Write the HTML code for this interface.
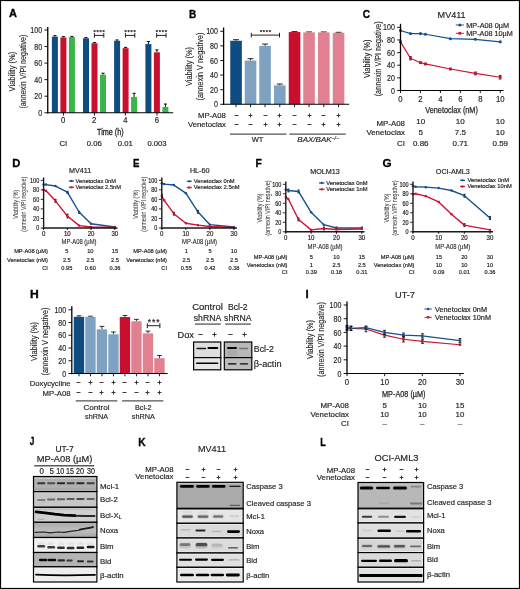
<!DOCTYPE html>
<html lang="en"><head><meta charset="utf-8"><title>Figure</title>
<style>html,body{margin:0;padding:0;background:#fff;}body{width:520px;height:589px;overflow:hidden;font-family:"Liberation Sans",Arial,sans-serif;}svg{display:block;}text{stroke:#231f20;stroke-width:0.18px;}</style>
</head><body>
<svg width="520" height="589" viewBox="0 0 520 589" font-family="'Liberation Sans', Arial, sans-serif" fill="#231f20">
<defs><filter id="b1" x="-20%" y="-100%" width="140%" height="300%"><feGaussianBlur stdDeviation="0.7"/></filter><filter id="b2" x="-20%" y="-100%" width="140%" height="300%"><feGaussianBlur stdDeviation="0.9"/></filter><filter id="b3" x="-20%" y="-100%" width="140%" height="300%"><feGaussianBlur stdDeviation="1.5"/></filter></defs>
<rect x="0.00" y="0.00" width="520.00" height="589.00" fill="#fff"/>
<text x="9.04" y="17.08" font-size="11.0" font-weight="bold" fill="#000" style="stroke:#000;stroke-width:0.3px" textLength="7.95" lengthAdjust="spacingAndGlyphs">A</text>
<line x1="54.90" y1="35.63" x2="54.90" y2="36.62" stroke="#000" stroke-width="0.95"/>
<line x1="53.30" y1="35.63" x2="56.50" y2="35.63" stroke="#000" stroke-width="0.95"/>
<rect x="51.90" y="36.62" width="6.00" height="76.13" fill="#0f4c81"/>
<line x1="63.40" y1="36.62" x2="63.40" y2="37.45" stroke="#000" stroke-width="0.95"/>
<line x1="61.80" y1="36.62" x2="65.00" y2="36.62" stroke="#000" stroke-width="0.95"/>
<rect x="60.40" y="37.45" width="6.00" height="75.30" fill="#c8102e"/>
<line x1="71.90" y1="36.37" x2="71.90" y2="37.03" stroke="#000" stroke-width="0.95"/>
<line x1="70.30" y1="36.37" x2="73.50" y2="36.37" stroke="#000" stroke-width="0.95"/>
<rect x="68.90" y="37.03" width="6.00" height="75.72" fill="#39b54a"/>
<line x1="86.00" y1="37.61" x2="86.00" y2="38.28" stroke="#000" stroke-width="0.95"/>
<line x1="84.40" y1="37.61" x2="87.60" y2="37.61" stroke="#000" stroke-width="0.95"/>
<rect x="83.00" y="38.28" width="6.00" height="74.47" fill="#0f4c81"/>
<line x1="94.50" y1="42.58" x2="94.50" y2="43.24" stroke="#000" stroke-width="0.95"/>
<line x1="92.90" y1="42.58" x2="96.10" y2="42.58" stroke="#000" stroke-width="0.95"/>
<rect x="91.50" y="43.24" width="6.00" height="69.51" fill="#c8102e"/>
<line x1="103.00" y1="73.20" x2="103.00" y2="74.69" stroke="#000" stroke-width="0.95"/>
<line x1="101.40" y1="73.20" x2="104.60" y2="73.20" stroke="#000" stroke-width="0.95"/>
<rect x="100.00" y="74.69" width="6.00" height="38.06" fill="#39b54a"/>
<line x1="117.10" y1="39.93" x2="117.10" y2="40.76" stroke="#000" stroke-width="0.95"/>
<line x1="115.50" y1="39.93" x2="118.70" y2="39.93" stroke="#000" stroke-width="0.95"/>
<rect x="114.10" y="40.76" width="6.00" height="71.99" fill="#0f4c81"/>
<line x1="125.60" y1="47.38" x2="125.60" y2="48.20" stroke="#000" stroke-width="0.95"/>
<line x1="124.00" y1="47.38" x2="127.20" y2="47.38" stroke="#000" stroke-width="0.95"/>
<rect x="122.60" y="48.20" width="6.00" height="64.55" fill="#c8102e"/>
<line x1="134.10" y1="93.30" x2="134.10" y2="97.03" stroke="#000" stroke-width="0.95"/>
<line x1="132.50" y1="93.30" x2="135.70" y2="93.30" stroke="#000" stroke-width="0.95"/>
<rect x="131.10" y="97.03" width="6.00" height="15.72" fill="#39b54a"/>
<line x1="148.40" y1="41.58" x2="148.40" y2="44.07" stroke="#000" stroke-width="0.95"/>
<line x1="146.80" y1="41.58" x2="150.00" y2="41.58" stroke="#000" stroke-width="0.95"/>
<rect x="145.40" y="44.07" width="6.00" height="68.68" fill="#0f4c81"/>
<line x1="156.90" y1="49.86" x2="156.90" y2="52.34" stroke="#000" stroke-width="0.95"/>
<line x1="155.30" y1="49.86" x2="158.50" y2="49.86" stroke="#000" stroke-width="0.95"/>
<rect x="153.90" y="52.34" width="6.00" height="60.41" fill="#c8102e"/>
<line x1="165.40" y1="104.06" x2="165.40" y2="106.96" stroke="#000" stroke-width="0.95"/>
<line x1="163.80" y1="104.06" x2="167.00" y2="104.06" stroke="#000" stroke-width="0.95"/>
<rect x="162.40" y="106.96" width="6.00" height="5.79" fill="#39b54a"/>
<line x1="47.25" y1="112.75" x2="173.20" y2="112.75" stroke="#000" stroke-width="1.1"/>
<line x1="47.75" y1="27.00" x2="47.75" y2="113.40" stroke="#000" stroke-width="1.3"/>
<line x1="44.40" y1="112.75" x2="47.75" y2="112.75" stroke="#000" stroke-width="0.9"/>
<text x="38.18" y="115.90" font-size="8.8" textLength="3.92" lengthAdjust="spacingAndGlyphs">0</text>
<line x1="44.40" y1="96.20" x2="47.75" y2="96.20" stroke="#000" stroke-width="0.9"/>
<text x="34.27" y="99.35" font-size="8.8" textLength="7.83" lengthAdjust="spacingAndGlyphs">20</text>
<line x1="44.40" y1="79.65" x2="47.75" y2="79.65" stroke="#000" stroke-width="0.9"/>
<text x="34.27" y="82.80" font-size="8.8" textLength="7.83" lengthAdjust="spacingAndGlyphs">40</text>
<line x1="44.40" y1="63.10" x2="47.75" y2="63.10" stroke="#000" stroke-width="0.9"/>
<text x="34.27" y="66.25" font-size="8.8" textLength="7.83" lengthAdjust="spacingAndGlyphs">60</text>
<line x1="44.40" y1="46.55" x2="47.75" y2="46.55" stroke="#000" stroke-width="0.9"/>
<text x="34.27" y="49.70" font-size="8.8" textLength="7.83" lengthAdjust="spacingAndGlyphs">80</text>
<line x1="44.40" y1="30.00" x2="47.75" y2="30.00" stroke="#000" stroke-width="0.9"/>
<text x="30.35" y="33.15" font-size="8.8" textLength="11.75" lengthAdjust="spacingAndGlyphs">100</text>
<text transform="translate(12.10 71.60) rotate(-90)" x="-19.80" y="3.11" font-size="8.7" style="stroke:#231f20;stroke-width:0.12px" textLength="39.60" lengthAdjust="spacingAndGlyphs">Viability (%)</text>
<text transform="translate(23.00 71.60) rotate(-90)" x="-37.00" y="3.11" font-size="8.7" style="stroke:#231f20;stroke-width:0.12px" textLength="74.00" lengthAdjust="spacingAndGlyphs">(annexin V/PI negative)</text>
<text x="61.10" y="123.35" font-size="8.8" textLength="4.31" lengthAdjust="spacingAndGlyphs">0</text>
<line x1="63.45" y1="112.75" x2="63.45" y2="115.55" stroke="#000" stroke-width="0.9"/>
<text x="92.10" y="123.35" font-size="8.8" textLength="4.31" lengthAdjust="spacingAndGlyphs">2</text>
<line x1="94.45" y1="112.75" x2="94.45" y2="115.55" stroke="#000" stroke-width="0.9"/>
<text x="123.25" y="123.35" font-size="8.8" textLength="4.31" lengthAdjust="spacingAndGlyphs">4</text>
<line x1="125.40" y1="112.75" x2="125.40" y2="115.55" stroke="#000" stroke-width="0.9"/>
<text x="154.85" y="123.35" font-size="8.8" textLength="4.31" lengthAdjust="spacingAndGlyphs">6</text>
<line x1="157.00" y1="112.75" x2="157.00" y2="115.55" stroke="#000" stroke-width="0.9"/>
<text x="97.05" y="134.72" font-size="9" style="stroke:#231f20;stroke-width:0.3px" textLength="26.50" lengthAdjust="spacingAndGlyphs">Time (h)</text>
<text x="63.25" y="146.26" font-size="7.7" text-anchor="middle">CI</text>
<text x="94.25" y="146.26" font-size="7.7" text-anchor="middle">0.06</text>
<text x="125.25" y="146.26" font-size="7.7" text-anchor="middle">0.01</text>
<text x="157.00" y="146.26" font-size="7.7" text-anchor="middle">0.003</text>
<line x1="94.40" y1="35.40" x2="103.80" y2="35.40" stroke="#231f20" stroke-width="1.0"/>
<line x1="94.40" y1="33.10" x2="94.40" y2="37.70" stroke="#231f20" stroke-width="1.0"/>
<line x1="103.80" y1="33.10" x2="103.80" y2="37.70" stroke="#231f20" stroke-width="1.0"/>
<text x="99.10" y="33.86" font-size="5.6" font-weight="bold" text-anchor="middle" textLength="11.20" lengthAdjust="spacing">****</text>
<line x1="125.40" y1="35.40" x2="134.80" y2="35.40" stroke="#231f20" stroke-width="1.0"/>
<line x1="125.40" y1="33.10" x2="125.40" y2="37.70" stroke="#231f20" stroke-width="1.0"/>
<line x1="134.80" y1="33.10" x2="134.80" y2="37.70" stroke="#231f20" stroke-width="1.0"/>
<text x="130.10" y="33.86" font-size="5.6" font-weight="bold" text-anchor="middle" textLength="11.20" lengthAdjust="spacing">****</text>
<line x1="156.65" y1="35.40" x2="166.05" y2="35.40" stroke="#231f20" stroke-width="1.0"/>
<line x1="156.65" y1="33.10" x2="156.65" y2="37.70" stroke="#231f20" stroke-width="1.0"/>
<line x1="166.05" y1="33.10" x2="166.05" y2="37.70" stroke="#231f20" stroke-width="1.0"/>
<text x="161.35" y="33.86" font-size="5.6" font-weight="bold" text-anchor="middle" textLength="11.20" lengthAdjust="spacing">****</text>
<text x="188.89" y="17.53" font-size="11.0" font-weight="bold" fill="#000" style="stroke:#000;stroke-width:0.3px" textLength="7.27" lengthAdjust="spacingAndGlyphs">B</text>
<line x1="236.05" y1="39.70" x2="236.05" y2="40.79" stroke="#000" stroke-width="0.85"/>
<line x1="233.05" y1="39.70" x2="239.05" y2="39.70" stroke="#000" stroke-width="0.85"/>
<rect x="230.25" y="40.79" width="11.60" height="63.51" fill="#0f4c81"/>
<line x1="236.05" y1="104.30" x2="236.05" y2="107.10" stroke="#000" stroke-width="0.9"/>
<line x1="250.55" y1="58.67" x2="250.55" y2="60.50" stroke="#000" stroke-width="0.85"/>
<line x1="247.55" y1="58.67" x2="253.55" y2="58.67" stroke="#000" stroke-width="0.85"/>
<rect x="244.75" y="60.50" width="11.60" height="43.80" fill="#7fa2c3"/>
<line x1="250.55" y1="104.30" x2="250.55" y2="107.10" stroke="#000" stroke-width="0.9"/>
<line x1="265.05" y1="44.07" x2="265.05" y2="45.90" stroke="#000" stroke-width="0.85"/>
<line x1="262.05" y1="44.07" x2="268.05" y2="44.07" stroke="#000" stroke-width="0.85"/>
<rect x="259.25" y="45.90" width="11.60" height="58.40" fill="#7fa2c3"/>
<line x1="265.05" y1="104.30" x2="265.05" y2="107.10" stroke="#000" stroke-width="0.9"/>
<line x1="279.80" y1="84.01" x2="279.80" y2="85.32" stroke="#000" stroke-width="0.85"/>
<line x1="276.80" y1="84.01" x2="282.80" y2="84.01" stroke="#000" stroke-width="0.85"/>
<rect x="274.00" y="85.32" width="11.60" height="18.98" fill="#7fa2c3"/>
<line x1="279.80" y1="104.30" x2="279.80" y2="107.10" stroke="#000" stroke-width="0.9"/>
<line x1="294.55" y1="31.59" x2="294.55" y2="32.03" stroke="#000" stroke-width="0.85"/>
<line x1="291.55" y1="31.59" x2="297.55" y2="31.59" stroke="#000" stroke-width="0.85"/>
<rect x="288.75" y="32.03" width="11.60" height="72.27" fill="#c8102e"/>
<line x1="294.55" y1="104.30" x2="294.55" y2="107.10" stroke="#000" stroke-width="0.9"/>
<line x1="309.05" y1="31.96" x2="309.05" y2="32.39" stroke="#000" stroke-width="0.85"/>
<line x1="306.05" y1="31.96" x2="312.05" y2="31.96" stroke="#000" stroke-width="0.85"/>
<rect x="303.25" y="32.39" width="11.60" height="71.91" fill="#e08090"/>
<line x1="309.05" y1="104.30" x2="309.05" y2="107.10" stroke="#000" stroke-width="0.9"/>
<line x1="323.80" y1="31.96" x2="323.80" y2="32.39" stroke="#000" stroke-width="0.85"/>
<line x1="320.80" y1="31.96" x2="326.80" y2="31.96" stroke="#000" stroke-width="0.85"/>
<rect x="318.00" y="32.39" width="11.60" height="71.91" fill="#e08090"/>
<line x1="323.80" y1="104.30" x2="323.80" y2="107.10" stroke="#000" stroke-width="0.9"/>
<line x1="338.55" y1="32.32" x2="338.55" y2="32.76" stroke="#000" stroke-width="0.85"/>
<line x1="335.55" y1="32.32" x2="341.55" y2="32.32" stroke="#000" stroke-width="0.85"/>
<rect x="332.75" y="32.76" width="11.60" height="71.54" fill="#e08090"/>
<line x1="338.55" y1="104.30" x2="338.55" y2="107.10" stroke="#000" stroke-width="0.9"/>
<line x1="223.10" y1="104.30" x2="349.20" y2="104.30" stroke="#000" stroke-width="1.1"/>
<line x1="223.60" y1="27.50" x2="223.60" y2="104.95" stroke="#000" stroke-width="1.3"/>
<line x1="220.25" y1="104.30" x2="223.60" y2="104.30" stroke="#000" stroke-width="0.9"/>
<text x="214.03" y="107.45" font-size="8.8" textLength="3.92" lengthAdjust="spacingAndGlyphs">0</text>
<line x1="220.25" y1="89.70" x2="223.60" y2="89.70" stroke="#000" stroke-width="0.9"/>
<text x="210.12" y="92.85" font-size="8.8" textLength="7.83" lengthAdjust="spacingAndGlyphs">20</text>
<line x1="220.25" y1="75.10" x2="223.60" y2="75.10" stroke="#000" stroke-width="0.9"/>
<text x="210.12" y="78.25" font-size="8.8" textLength="7.83" lengthAdjust="spacingAndGlyphs">40</text>
<line x1="220.25" y1="60.50" x2="223.60" y2="60.50" stroke="#000" stroke-width="0.9"/>
<text x="210.12" y="63.65" font-size="8.8" textLength="7.83" lengthAdjust="spacingAndGlyphs">60</text>
<line x1="220.25" y1="45.90" x2="223.60" y2="45.90" stroke="#000" stroke-width="0.9"/>
<text x="210.12" y="49.05" font-size="8.8" textLength="7.83" lengthAdjust="spacingAndGlyphs">80</text>
<line x1="220.25" y1="31.30" x2="223.60" y2="31.30" stroke="#000" stroke-width="0.9"/>
<text x="206.20" y="34.45" font-size="8.8" textLength="11.75" lengthAdjust="spacingAndGlyphs">100</text>
<text transform="translate(188.80 66.50) rotate(-90)" x="-19.60" y="3.11" font-size="8.7" style="stroke:#231f20;stroke-width:0.12px" textLength="39.20" lengthAdjust="spacingAndGlyphs">Viability (%)</text>
<text transform="translate(199.90 66.50) rotate(-90)" x="-34.00" y="3.11" font-size="8.7" style="stroke:#231f20;stroke-width:0.12px" textLength="68.00" lengthAdjust="spacingAndGlyphs">(annexin V negative)</text>
<text x="198.00" y="117.98" font-size="7.5" textLength="27.80" lengthAdjust="spacingAndGlyphs">MP-A08</text>
<text x="188.00" y="127.28" font-size="7.5" textLength="37.80" lengthAdjust="spacingAndGlyphs">Venetoclax</text>
<line x1="234.50" y1="115.50" x2="238.50" y2="115.50" stroke="#2a2627" stroke-width="0.9"/>
<line x1="248.50" y1="115.50" x2="252.50" y2="115.50" stroke="#2a2627" stroke-width="0.9"/>
<line x1="250.50" y1="113.50" x2="250.50" y2="117.50" stroke="#2a2627" stroke-width="0.9"/>
<line x1="263.50" y1="115.50" x2="267.50" y2="115.50" stroke="#2a2627" stroke-width="0.9"/>
<line x1="277.50" y1="115.50" x2="281.50" y2="115.50" stroke="#2a2627" stroke-width="0.9"/>
<line x1="279.50" y1="113.50" x2="279.50" y2="117.50" stroke="#2a2627" stroke-width="0.9"/>
<line x1="292.50" y1="115.50" x2="296.50" y2="115.50" stroke="#2a2627" stroke-width="0.9"/>
<line x1="307.50" y1="115.50" x2="311.50" y2="115.50" stroke="#2a2627" stroke-width="0.9"/>
<line x1="309.50" y1="113.50" x2="309.50" y2="117.50" stroke="#2a2627" stroke-width="0.9"/>
<line x1="321.50" y1="115.50" x2="325.50" y2="115.50" stroke="#2a2627" stroke-width="0.9"/>
<line x1="336.50" y1="115.50" x2="340.50" y2="115.50" stroke="#2a2627" stroke-width="0.9"/>
<line x1="338.50" y1="113.50" x2="338.50" y2="117.50" stroke="#2a2627" stroke-width="0.9"/>
<line x1="234.50" y1="124.50" x2="238.50" y2="124.50" stroke="#2a2627" stroke-width="0.9"/>
<line x1="248.50" y1="124.50" x2="252.50" y2="124.50" stroke="#2a2627" stroke-width="0.9"/>
<line x1="263.50" y1="124.50" x2="267.50" y2="124.50" stroke="#2a2627" stroke-width="0.9"/>
<line x1="265.50" y1="122.50" x2="265.50" y2="126.50" stroke="#2a2627" stroke-width="0.9"/>
<line x1="277.50" y1="124.50" x2="281.50" y2="124.50" stroke="#2a2627" stroke-width="0.9"/>
<line x1="279.50" y1="122.50" x2="279.50" y2="126.50" stroke="#2a2627" stroke-width="0.9"/>
<line x1="292.50" y1="124.50" x2="296.50" y2="124.50" stroke="#2a2627" stroke-width="0.9"/>
<line x1="307.50" y1="124.50" x2="311.50" y2="124.50" stroke="#2a2627" stroke-width="0.9"/>
<line x1="321.50" y1="124.50" x2="325.50" y2="124.50" stroke="#2a2627" stroke-width="0.9"/>
<line x1="323.50" y1="122.50" x2="323.50" y2="126.50" stroke="#2a2627" stroke-width="0.9"/>
<line x1="336.50" y1="124.50" x2="340.50" y2="124.50" stroke="#2a2627" stroke-width="0.9"/>
<line x1="338.50" y1="122.50" x2="338.50" y2="126.50" stroke="#2a2627" stroke-width="0.9"/>
<line x1="230.00" y1="134.10" x2="286.50" y2="134.10" stroke="#555" stroke-width="1.3"/>
<line x1="289.25" y1="134.10" x2="345.75" y2="134.10" stroke="#555" stroke-width="1.3"/>
<text x="257.50" y="142.38" font-size="7.5" text-anchor="middle">WT</text>
<text x="318.1" y="142.3" font-size="8" text-anchor="middle" font-style="italic">BAX/BAK<tspan font-size="5" dy="-2.8">−/−</tspan></text>
<line x1="251.30" y1="35.10" x2="279.50" y2="35.10" stroke="#231f20" stroke-width="1.0"/>
<line x1="251.30" y1="32.80" x2="251.30" y2="37.40" stroke="#231f20" stroke-width="1.0"/>
<line x1="279.50" y1="32.80" x2="279.50" y2="37.40" stroke="#231f20" stroke-width="1.0"/>
<text x="265.40" y="33.86" font-size="5.6" font-weight="bold" text-anchor="middle" textLength="11.00" lengthAdjust="spacing">****</text>
<text x="362.63" y="17.53" font-size="11.0" font-weight="bold" fill="#000" style="stroke:#000;stroke-width:0.3px" textLength="7.34" lengthAdjust="spacingAndGlyphs">C</text>
<text x="437.60" y="18.22" font-size="9" textLength="28.00" lengthAdjust="spacingAndGlyphs">MV411</text>
<path d="M400.50 30.46 L410.48 33.62 L420.45 33.62 L425.44 34.25 L450.38 38.68 L475.31 39.31 L500.25 41.84" fill="none" stroke="#15518f" stroke-width="1.2" stroke-linejoin="round"/>
<circle cx="400.50" cy="30.46" r="1.55" fill="#15518f"/>
<circle cx="410.48" cy="33.62" r="1.55" fill="#15518f"/>
<circle cx="420.45" cy="33.62" r="1.55" fill="#15518f"/>
<circle cx="425.44" cy="34.25" r="1.55" fill="#15518f"/>
<circle cx="450.38" cy="38.68" r="1.55" fill="#15518f"/>
<circle cx="475.31" cy="39.31" r="1.55" fill="#15518f"/>
<circle cx="500.25" cy="41.84" r="1.55" fill="#15518f"/>
<path d="M400.50 41.84 L410.48 58.27 L420.45 62.69 L425.44 63.96 L450.38 69.01 L475.31 73.44 L500.25 77.23" fill="none" stroke="#cc1433" stroke-width="1.2" stroke-linejoin="round"/>
<line x1="410.50" y1="56.69" x2="410.50" y2="59.85" stroke="#000" stroke-width="0.7"/>
<line x1="409.20" y1="56.69" x2="411.80" y2="56.69" stroke="#000" stroke-width="0.85"/>
<line x1="409.20" y1="59.85" x2="411.80" y2="59.85" stroke="#000" stroke-width="0.85"/>
<line x1="420.50" y1="62.06" x2="420.50" y2="63.32" stroke="#000" stroke-width="0.7"/>
<line x1="419.20" y1="62.06" x2="421.80" y2="62.06" stroke="#000" stroke-width="0.85"/>
<line x1="419.20" y1="63.32" x2="421.80" y2="63.32" stroke="#000" stroke-width="0.85"/>
<line x1="425.50" y1="63.32" x2="425.50" y2="64.59" stroke="#000" stroke-width="0.7"/>
<line x1="424.20" y1="63.32" x2="426.80" y2="63.32" stroke="#000" stroke-width="0.85"/>
<line x1="424.20" y1="64.59" x2="426.80" y2="64.59" stroke="#000" stroke-width="0.85"/>
<line x1="450.50" y1="68.38" x2="450.50" y2="69.64" stroke="#000" stroke-width="0.7"/>
<line x1="449.20" y1="68.38" x2="451.80" y2="68.38" stroke="#000" stroke-width="0.85"/>
<line x1="449.20" y1="69.64" x2="451.80" y2="69.64" stroke="#000" stroke-width="0.85"/>
<line x1="475.50" y1="72.05" x2="475.50" y2="74.83" stroke="#000" stroke-width="0.7"/>
<line x1="474.20" y1="72.05" x2="476.80" y2="72.05" stroke="#000" stroke-width="0.85"/>
<line x1="474.20" y1="74.83" x2="476.80" y2="74.83" stroke="#000" stroke-width="0.85"/>
<line x1="500.00" y1="75.46" x2="500.00" y2="79.00" stroke="#000" stroke-width="0.7"/>
<line x1="498.70" y1="75.46" x2="501.30" y2="75.46" stroke="#000" stroke-width="0.85"/>
<line x1="498.70" y1="79.00" x2="501.30" y2="79.00" stroke="#000" stroke-width="0.85"/>
<rect x="399.10" y="40.44" width="2.80" height="2.80" fill="#cc1433"/>
<rect x="409.08" y="56.87" width="2.80" height="2.80" fill="#cc1433"/>
<rect x="419.05" y="61.29" width="2.80" height="2.80" fill="#cc1433"/>
<rect x="424.04" y="62.56" width="2.80" height="2.80" fill="#cc1433"/>
<rect x="448.98" y="67.61" width="2.80" height="2.80" fill="#cc1433"/>
<rect x="473.91" y="72.04" width="2.80" height="2.80" fill="#cc1433"/>
<rect x="498.85" y="75.83" width="2.80" height="2.80" fill="#cc1433"/>
<line x1="400.00" y1="90.50" x2="503.50" y2="90.50" stroke="#000" stroke-width="1.1"/>
<line x1="400.50" y1="23.80" x2="400.50" y2="91.15" stroke="#000" stroke-width="1.3"/>
<line x1="397.15" y1="90.50" x2="400.50" y2="90.50" stroke="#000" stroke-width="0.9"/>
<text x="390.93" y="93.65" font-size="8.8" textLength="3.92" lengthAdjust="spacingAndGlyphs">0</text>
<line x1="397.15" y1="77.86" x2="400.50" y2="77.86" stroke="#000" stroke-width="0.9"/>
<text x="387.02" y="81.01" font-size="8.8" textLength="7.83" lengthAdjust="spacingAndGlyphs">20</text>
<line x1="397.15" y1="65.22" x2="400.50" y2="65.22" stroke="#000" stroke-width="0.9"/>
<text x="387.02" y="68.37" font-size="8.8" textLength="7.83" lengthAdjust="spacingAndGlyphs">40</text>
<line x1="397.15" y1="52.58" x2="400.50" y2="52.58" stroke="#000" stroke-width="0.9"/>
<text x="387.02" y="55.73" font-size="8.8" textLength="7.83" lengthAdjust="spacingAndGlyphs">60</text>
<line x1="397.15" y1="39.94" x2="400.50" y2="39.94" stroke="#000" stroke-width="0.9"/>
<text x="387.02" y="43.09" font-size="8.8" textLength="7.83" lengthAdjust="spacingAndGlyphs">80</text>
<line x1="397.15" y1="27.30" x2="400.50" y2="27.30" stroke="#000" stroke-width="0.9"/>
<text x="383.10" y="30.45" font-size="8.8" textLength="11.75" lengthAdjust="spacingAndGlyphs">100</text>
<line x1="400.50" y1="90.50" x2="400.50" y2="93.10" stroke="#000" stroke-width="0.9"/>
<text x="398.35" y="101.85" font-size="8.8" textLength="4.31" lengthAdjust="spacingAndGlyphs">0</text>
<line x1="420.45" y1="90.50" x2="420.45" y2="93.10" stroke="#000" stroke-width="0.9"/>
<text x="418.30" y="101.85" font-size="8.8" textLength="4.31" lengthAdjust="spacingAndGlyphs">2</text>
<line x1="440.40" y1="90.50" x2="440.40" y2="93.10" stroke="#000" stroke-width="0.9"/>
<text x="438.25" y="101.85" font-size="8.8" textLength="4.31" lengthAdjust="spacingAndGlyphs">4</text>
<line x1="460.35" y1="90.50" x2="460.35" y2="93.10" stroke="#000" stroke-width="0.9"/>
<text x="458.20" y="101.85" font-size="8.8" textLength="4.31" lengthAdjust="spacingAndGlyphs">6</text>
<line x1="480.30" y1="90.50" x2="480.30" y2="93.10" stroke="#000" stroke-width="0.9"/>
<text x="478.15" y="101.85" font-size="8.8" textLength="4.31" lengthAdjust="spacingAndGlyphs">8</text>
<line x1="500.25" y1="90.50" x2="500.25" y2="93.10" stroke="#000" stroke-width="0.9"/>
<text x="495.94" y="101.85" font-size="8.8" textLength="8.61" lengthAdjust="spacingAndGlyphs">10</text>
<text transform="translate(366.80 58.80) rotate(-90)" x="-19.25" y="3.11" font-size="8.7" style="stroke:#231f20;stroke-width:0.12px" textLength="38.50" lengthAdjust="spacingAndGlyphs">Viability (%)</text>
<text transform="translate(377.50 58.80) rotate(-90)" x="-37.50" y="3.11" font-size="8.7" style="stroke:#231f20;stroke-width:0.12px" textLength="75.00" lengthAdjust="spacingAndGlyphs">(annexin V/PI negative)</text>
<text x="425.35" y="112.59" font-size="9.2" style="stroke:#231f20;stroke-width:0.25px" textLength="52.50" lengthAdjust="spacingAndGlyphs">Venetoclax (nM)</text>
<line x1="455.80" y1="25.00" x2="463.80" y2="25.00" stroke="#15518f" stroke-width="1.0"/>
<circle cx="459.80" cy="25.00" r="1.5" fill="#15518f"/>
<text x="466.30" y="27.61" font-size="7.3" textLength="42.70" lengthAdjust="spacingAndGlyphs">MP-A08 0µM</text>
<line x1="455.80" y1="33.30" x2="463.80" y2="33.30" stroke="#cc1433" stroke-width="1.0"/>
<rect x="458.45" y="31.95" width="2.70" height="2.70" fill="#cc1433"/>
<text x="466.30" y="35.91" font-size="7.3" textLength="46.50" lengthAdjust="spacingAndGlyphs">MP-A08 10µM</text>
<text x="405.00" y="125.63" font-size="7.9" text-anchor="end">MP-A08</text>
<text x="420.80" y="124.36" font-size="8.0" text-anchor="middle">10</text>
<text x="460.30" y="124.36" font-size="8.0" text-anchor="middle">10</text>
<text x="500.30" y="124.36" font-size="8.0" text-anchor="middle">10</text>
<text x="405.00" y="135.43" font-size="7.9" text-anchor="end">Venetoclax</text>
<text x="420.80" y="135.46" font-size="8.0" text-anchor="middle">5</text>
<text x="460.30" y="135.46" font-size="8.0" text-anchor="middle">7.5</text>
<text x="500.30" y="135.46" font-size="8.0" text-anchor="middle">10</text>
<text x="405.00" y="145.63" font-size="7.9" text-anchor="end">CI</text>
<text x="420.80" y="145.66" font-size="8.0" text-anchor="middle">0.86</text>
<text x="460.30" y="145.66" font-size="8.0" text-anchor="middle">0.71</text>
<text x="500.30" y="145.66" font-size="8.0" text-anchor="middle">0.59</text>
<text x="12.31" y="167.28" font-size="11.0" font-weight="bold" fill="#000" style="stroke:#000;stroke-width:0.3px" textLength="8.10" lengthAdjust="spacingAndGlyphs">D</text>
<text x="80.20" y="173.18" font-size="7.2" text-anchor="middle">MV411</text>
<path d="M43.60 184.59 L45.97 184.59 L55.47 186.02 L67.33 192.23 L79.20 212.26 L91.07 223.71 L114.80 227.05" fill="none" stroke="#15518f" stroke-width="1.4" stroke-linejoin="round"/>
<line x1="67.50" y1="191.27" x2="67.50" y2="193.18" stroke="#000" stroke-width="0.7"/>
<line x1="66.50" y1="191.27" x2="68.50" y2="191.27" stroke="#000" stroke-width="0.85"/>
<line x1="66.50" y1="193.18" x2="68.50" y2="193.18" stroke="#000" stroke-width="0.85"/>
<line x1="79.00" y1="211.31" x2="79.00" y2="213.21" stroke="#000" stroke-width="0.7"/>
<line x1="78.00" y1="211.31" x2="80.00" y2="211.31" stroke="#000" stroke-width="0.85"/>
<line x1="78.00" y1="213.21" x2="80.00" y2="213.21" stroke="#000" stroke-width="0.85"/>
<circle cx="43.60" cy="184.59" r="1.25" fill="#15518f"/>
<circle cx="45.97" cy="184.59" r="1.25" fill="#15518f"/>
<circle cx="55.47" cy="186.02" r="1.25" fill="#15518f"/>
<circle cx="67.33" cy="192.23" r="1.25" fill="#15518f"/>
<circle cx="79.20" cy="212.26" r="1.25" fill="#15518f"/>
<circle cx="91.07" cy="223.71" r="1.25" fill="#15518f"/>
<circle cx="114.80" cy="227.05" r="1.25" fill="#15518f"/>
<path d="M43.60 189.84 L45.97 190.79 L55.47 200.81 L67.33 216.07 L79.20 225.62 L91.07 227.05 L114.80 227.52" fill="none" stroke="#cc1433" stroke-width="1.4" stroke-linejoin="round"/>
<line x1="55.50" y1="199.38" x2="55.50" y2="202.24" stroke="#000" stroke-width="0.7"/>
<line x1="54.50" y1="199.38" x2="56.50" y2="199.38" stroke="#000" stroke-width="0.85"/>
<line x1="54.50" y1="202.24" x2="56.50" y2="202.24" stroke="#000" stroke-width="0.85"/>
<line x1="67.50" y1="214.17" x2="67.50" y2="217.98" stroke="#000" stroke-width="0.7"/>
<line x1="66.50" y1="214.17" x2="68.50" y2="214.17" stroke="#000" stroke-width="0.85"/>
<line x1="66.50" y1="217.98" x2="68.50" y2="217.98" stroke="#000" stroke-width="0.85"/>
<rect x="42.50" y="188.74" width="2.20" height="2.20" fill="#cc1433"/>
<rect x="44.87" y="189.69" width="2.20" height="2.20" fill="#cc1433"/>
<rect x="54.37" y="199.71" width="2.20" height="2.20" fill="#cc1433"/>
<rect x="66.23" y="214.97" width="2.20" height="2.20" fill="#cc1433"/>
<rect x="78.10" y="224.52" width="2.20" height="2.20" fill="#cc1433"/>
<rect x="89.97" y="225.95" width="2.20" height="2.20" fill="#cc1433"/>
<rect x="113.70" y="226.42" width="2.20" height="2.20" fill="#cc1433"/>
<line x1="42.90" y1="228.00" x2="117.50" y2="228.00" stroke="#1a1a1a" stroke-width="1.5"/>
<line x1="43.60" y1="177.50" x2="43.60" y2="228.70" stroke="#1a1a1a" stroke-width="1.4"/>
<line x1="40.70" y1="228.00" x2="43.60" y2="228.00" stroke="#1a1a1a" stroke-width="0.9"/>
<text x="36.15" y="230.26" font-size="6.3" textLength="3.05" lengthAdjust="spacingAndGlyphs">0</text>
<line x1="40.70" y1="218.46" x2="43.60" y2="218.46" stroke="#1a1a1a" stroke-width="0.9"/>
<text x="33.10" y="220.72" font-size="6.3" textLength="6.10" lengthAdjust="spacingAndGlyphs">20</text>
<line x1="40.70" y1="208.92" x2="43.60" y2="208.92" stroke="#1a1a1a" stroke-width="0.9"/>
<text x="33.10" y="211.18" font-size="6.3" textLength="6.10" lengthAdjust="spacingAndGlyphs">40</text>
<line x1="40.70" y1="199.38" x2="43.60" y2="199.38" stroke="#1a1a1a" stroke-width="0.9"/>
<text x="33.10" y="201.64" font-size="6.3" textLength="6.10" lengthAdjust="spacingAndGlyphs">60</text>
<line x1="40.70" y1="189.84" x2="43.60" y2="189.84" stroke="#1a1a1a" stroke-width="0.9"/>
<text x="33.10" y="192.10" font-size="6.3" textLength="6.10" lengthAdjust="spacingAndGlyphs">80</text>
<line x1="40.70" y1="180.30" x2="43.60" y2="180.30" stroke="#1a1a1a" stroke-width="0.9"/>
<text x="30.05" y="182.56" font-size="6.3" textLength="9.15" lengthAdjust="spacingAndGlyphs">100</text>
<line x1="43.60" y1="228.00" x2="43.60" y2="230.00" stroke="#000" stroke-width="0.9"/>
<text x="41.90" y="236.46" font-size="6.3" textLength="3.40" lengthAdjust="spacingAndGlyphs">0</text>
<line x1="67.33" y1="228.00" x2="67.33" y2="230.00" stroke="#000" stroke-width="0.9"/>
<text x="63.93" y="236.46" font-size="6.3" textLength="6.80" lengthAdjust="spacingAndGlyphs">10</text>
<line x1="91.07" y1="228.00" x2="91.07" y2="230.00" stroke="#000" stroke-width="0.9"/>
<text x="87.67" y="236.46" font-size="6.3" textLength="6.80" lengthAdjust="spacingAndGlyphs">20</text>
<line x1="114.80" y1="228.00" x2="114.80" y2="230.00" stroke="#000" stroke-width="0.9"/>
<text x="111.40" y="236.46" font-size="6.3" textLength="6.80" lengthAdjust="spacingAndGlyphs">30</text>
<text transform="translate(15.80 204.30) rotate(-90)" x="-14.40" y="2.26" font-size="6.3" style="stroke:none" textLength="28.80" lengthAdjust="spacingAndGlyphs">Viability (%)</text>
<text transform="translate(23.80 204.30) rotate(-90)" x="-27.50" y="2.26" font-size="6.3" style="stroke:none" textLength="55.00" lengthAdjust="spacingAndGlyphs">(annexin V/PI negative)</text>
<text x="61.50" y="244.43" font-size="6.8" style="stroke:#231f20;stroke-width:0.1px" textLength="35.00" lengthAdjust="spacingAndGlyphs">MP-A08 (µM)</text>
<line x1="68.80" y1="181.00" x2="74.00" y2="181.00" stroke="#15518f" stroke-width="1.2"/>
<circle cx="71.40" cy="181.00" r="1.15" fill="#15518f"/>
<text x="75.60" y="182.97" font-size="5.5" textLength="40.40" lengthAdjust="spacingAndGlyphs">Venetoclax 0nM</text>
<line x1="68.80" y1="187.30" x2="74.00" y2="187.30" stroke="#cc1433" stroke-width="1.2"/>
<rect x="70.35" y="186.25" width="2.10" height="2.10" fill="#cc1433"/>
<text x="75.60" y="189.27" font-size="5.5" textLength="45.40" lengthAdjust="spacingAndGlyphs">Venetoclax 2.5nM</text>
<text x="47.80" y="253.32" font-size="5.65" text-anchor="end">MP-A08 (µM)</text>
<text x="66.80" y="253.32" font-size="5.65" text-anchor="middle">5</text>
<text x="90.30" y="253.32" font-size="5.65" text-anchor="middle">10</text>
<text x="115.00" y="253.32" font-size="5.65" text-anchor="middle">15</text>
<text x="47.80" y="262.32" font-size="5.65" text-anchor="end">Venetoclax (nM)</text>
<text x="66.80" y="262.32" font-size="5.65" text-anchor="middle">2.5</text>
<text x="90.30" y="262.32" font-size="5.65" text-anchor="middle">2.5</text>
<text x="115.00" y="262.32" font-size="5.65" text-anchor="middle">2.5</text>
<text x="47.80" y="269.82" font-size="5.65" text-anchor="end">CI</text>
<text x="66.80" y="269.82" font-size="5.65" text-anchor="middle">0.95</text>
<text x="90.30" y="269.82" font-size="5.65" text-anchor="middle">0.60</text>
<text x="115.00" y="269.82" font-size="5.65" text-anchor="middle">0.36</text>
<text x="132.92" y="167.28" font-size="11.0" font-weight="bold" fill="#000" style="stroke:#000;stroke-width:0.3px" textLength="6.41" lengthAdjust="spacingAndGlyphs">E</text>
<text x="199.70" y="173.18" font-size="7.2" text-anchor="middle">HL-60</text>
<path d="M161.80 183.16 L164.21 184.12 L173.83 185.07 L185.87 193.18 L197.90 211.78 L209.93 224.66 L234.00 227.05" fill="none" stroke="#15518f" stroke-width="1.4" stroke-linejoin="round"/>
<line x1="198.00" y1="210.35" x2="198.00" y2="213.21" stroke="#000" stroke-width="0.7"/>
<line x1="197.00" y1="210.35" x2="199.00" y2="210.35" stroke="#000" stroke-width="0.85"/>
<line x1="197.00" y1="213.21" x2="199.00" y2="213.21" stroke="#000" stroke-width="0.85"/>
<circle cx="161.80" cy="183.16" r="1.25" fill="#15518f"/>
<circle cx="164.21" cy="184.12" r="1.25" fill="#15518f"/>
<circle cx="173.83" cy="185.07" r="1.25" fill="#15518f"/>
<circle cx="185.87" cy="193.18" r="1.25" fill="#15518f"/>
<circle cx="197.90" cy="211.78" r="1.25" fill="#15518f"/>
<circle cx="209.93" cy="224.66" r="1.25" fill="#15518f"/>
<circle cx="234.00" cy="227.05" r="1.25" fill="#15518f"/>
<path d="M161.80 196.04 L164.21 200.33 L173.83 213.69 L185.87 223.23 L197.90 225.14 L209.93 226.57 L234.00 227.52" fill="none" stroke="#cc1433" stroke-width="1.4" stroke-linejoin="round"/>
<line x1="162.00" y1="194.61" x2="162.00" y2="197.47" stroke="#000" stroke-width="0.7"/>
<line x1="161.00" y1="194.61" x2="163.00" y2="194.61" stroke="#000" stroke-width="0.85"/>
<line x1="161.00" y1="197.47" x2="163.00" y2="197.47" stroke="#000" stroke-width="0.85"/>
<line x1="174.00" y1="212.26" x2="174.00" y2="215.12" stroke="#000" stroke-width="0.7"/>
<line x1="173.00" y1="212.26" x2="175.00" y2="212.26" stroke="#000" stroke-width="0.85"/>
<line x1="173.00" y1="215.12" x2="175.00" y2="215.12" stroke="#000" stroke-width="0.85"/>
<rect x="160.70" y="194.94" width="2.20" height="2.20" fill="#cc1433"/>
<rect x="163.11" y="199.23" width="2.20" height="2.20" fill="#cc1433"/>
<rect x="172.73" y="212.59" width="2.20" height="2.20" fill="#cc1433"/>
<rect x="184.77" y="222.13" width="2.20" height="2.20" fill="#cc1433"/>
<rect x="196.80" y="224.04" width="2.20" height="2.20" fill="#cc1433"/>
<rect x="208.83" y="225.47" width="2.20" height="2.20" fill="#cc1433"/>
<rect x="232.90" y="226.42" width="2.20" height="2.20" fill="#cc1433"/>
<line x1="161.10" y1="228.00" x2="237.00" y2="228.00" stroke="#1a1a1a" stroke-width="1.5"/>
<line x1="161.80" y1="177.50" x2="161.80" y2="228.70" stroke="#1a1a1a" stroke-width="1.4"/>
<line x1="158.90" y1="228.00" x2="161.80" y2="228.00" stroke="#1a1a1a" stroke-width="0.9"/>
<text x="154.35" y="230.26" font-size="6.3" textLength="3.05" lengthAdjust="spacingAndGlyphs">0</text>
<line x1="158.90" y1="218.46" x2="161.80" y2="218.46" stroke="#1a1a1a" stroke-width="0.9"/>
<text x="151.30" y="220.72" font-size="6.3" textLength="6.10" lengthAdjust="spacingAndGlyphs">20</text>
<line x1="158.90" y1="208.92" x2="161.80" y2="208.92" stroke="#1a1a1a" stroke-width="0.9"/>
<text x="151.30" y="211.18" font-size="6.3" textLength="6.10" lengthAdjust="spacingAndGlyphs">40</text>
<line x1="158.90" y1="199.38" x2="161.80" y2="199.38" stroke="#1a1a1a" stroke-width="0.9"/>
<text x="151.30" y="201.64" font-size="6.3" textLength="6.10" lengthAdjust="spacingAndGlyphs">60</text>
<line x1="158.90" y1="189.84" x2="161.80" y2="189.84" stroke="#1a1a1a" stroke-width="0.9"/>
<text x="151.30" y="192.10" font-size="6.3" textLength="6.10" lengthAdjust="spacingAndGlyphs">80</text>
<line x1="158.90" y1="180.30" x2="161.80" y2="180.30" stroke="#1a1a1a" stroke-width="0.9"/>
<text x="148.25" y="182.56" font-size="6.3" textLength="9.15" lengthAdjust="spacingAndGlyphs">100</text>
<line x1="161.80" y1="228.00" x2="161.80" y2="230.00" stroke="#000" stroke-width="0.9"/>
<text x="160.10" y="236.46" font-size="6.3" textLength="3.40" lengthAdjust="spacingAndGlyphs">0</text>
<line x1="185.87" y1="228.00" x2="185.87" y2="230.00" stroke="#000" stroke-width="0.9"/>
<text x="182.47" y="236.46" font-size="6.3" textLength="6.80" lengthAdjust="spacingAndGlyphs">10</text>
<line x1="209.93" y1="228.00" x2="209.93" y2="230.00" stroke="#000" stroke-width="0.9"/>
<text x="206.53" y="236.46" font-size="6.3" textLength="6.80" lengthAdjust="spacingAndGlyphs">20</text>
<line x1="234.00" y1="228.00" x2="234.00" y2="230.00" stroke="#000" stroke-width="0.9"/>
<text x="230.60" y="236.46" font-size="6.3" textLength="6.80" lengthAdjust="spacingAndGlyphs">30</text>
<text transform="translate(135.80 204.30) rotate(-90)" x="-14.40" y="2.26" font-size="6.3" style="stroke:none" textLength="28.80" lengthAdjust="spacingAndGlyphs">Viability (%)</text>
<text transform="translate(143.80 204.30) rotate(-90)" x="-27.50" y="2.26" font-size="6.3" style="stroke:none" textLength="55.00" lengthAdjust="spacingAndGlyphs">(annexin V/PI negative)</text>
<text x="182.00" y="244.43" font-size="6.8" style="stroke:#231f20;stroke-width:0.1px" textLength="35.00" lengthAdjust="spacingAndGlyphs">MP-A08 (µM)</text>
<line x1="186.80" y1="181.30" x2="191.80" y2="181.30" stroke="#15518f" stroke-width="1.2"/>
<circle cx="189.30" cy="181.30" r="1.15" fill="#15518f"/>
<text x="193.80" y="183.27" font-size="5.5" textLength="40.80" lengthAdjust="spacingAndGlyphs">Venetoclax 0nM</text>
<line x1="186.80" y1="187.50" x2="191.80" y2="187.50" stroke="#cc1433" stroke-width="1.2"/>
<rect x="188.25" y="186.45" width="2.10" height="2.10" fill="#cc1433"/>
<text x="193.80" y="189.47" font-size="5.5" textLength="45.80" lengthAdjust="spacingAndGlyphs">Venetoclax 2.5nM</text>
<text x="167.00" y="253.32" font-size="5.65" text-anchor="end">MP-A08 (µM)</text>
<text x="186.30" y="253.32" font-size="5.65" text-anchor="middle">1</text>
<text x="210.00" y="253.32" font-size="5.65" text-anchor="middle">5</text>
<text x="234.00" y="253.32" font-size="5.65" text-anchor="middle">10</text>
<text x="167.00" y="262.32" font-size="5.65" text-anchor="end">Venetoclax (nM)</text>
<text x="186.30" y="262.32" font-size="5.65" text-anchor="middle">2.5</text>
<text x="210.00" y="262.32" font-size="5.65" text-anchor="middle">2.5</text>
<text x="234.00" y="262.32" font-size="5.65" text-anchor="middle">2.5</text>
<text x="167.00" y="269.82" font-size="5.65" text-anchor="end">CI</text>
<text x="186.30" y="269.82" font-size="5.65" text-anchor="middle">0.55</text>
<text x="210.00" y="269.82" font-size="5.65" text-anchor="middle">0.42</text>
<text x="234.00" y="269.82" font-size="5.65" text-anchor="middle">0.38</text>
<text x="255.61" y="167.08" font-size="11.0" font-weight="bold" fill="#000" style="stroke:#000;stroke-width:0.3px" textLength="6.36" lengthAdjust="spacingAndGlyphs">F</text>
<text x="325.00" y="173.88" font-size="7.2" text-anchor="middle">MOLM13</text>
<path d="M285.80 189.53 L288.33 190.48 L298.47 191.43 L311.13 212.33 L323.80 224.68 L336.47 228.00 L361.80 228.00" fill="none" stroke="#15518f" stroke-width="1.4" stroke-linejoin="round"/>
<line x1="288.50" y1="189.05" x2="288.50" y2="191.90" stroke="#000" stroke-width="0.7"/>
<line x1="287.50" y1="189.05" x2="289.50" y2="189.05" stroke="#000" stroke-width="0.85"/>
<line x1="287.50" y1="191.90" x2="289.50" y2="191.90" stroke="#000" stroke-width="0.85"/>
<line x1="298.50" y1="190.00" x2="298.50" y2="192.85" stroke="#000" stroke-width="0.7"/>
<line x1="297.50" y1="190.00" x2="299.50" y2="190.00" stroke="#000" stroke-width="0.85"/>
<line x1="297.50" y1="192.85" x2="299.50" y2="192.85" stroke="#000" stroke-width="0.85"/>
<line x1="336.50" y1="227.05" x2="336.50" y2="228.95" stroke="#000" stroke-width="0.7"/>
<line x1="335.50" y1="227.05" x2="337.50" y2="227.05" stroke="#000" stroke-width="0.85"/>
<line x1="335.50" y1="228.95" x2="337.50" y2="228.95" stroke="#000" stroke-width="0.85"/>
<line x1="362.00" y1="227.05" x2="362.00" y2="228.95" stroke="#000" stroke-width="0.7"/>
<line x1="361.00" y1="227.05" x2="363.00" y2="227.05" stroke="#000" stroke-width="0.85"/>
<line x1="361.00" y1="228.95" x2="363.00" y2="228.95" stroke="#000" stroke-width="0.85"/>
<circle cx="285.80" cy="189.53" r="1.25" fill="#15518f"/>
<circle cx="288.33" cy="190.48" r="1.25" fill="#15518f"/>
<circle cx="298.47" cy="191.43" r="1.25" fill="#15518f"/>
<circle cx="311.13" cy="212.33" r="1.25" fill="#15518f"/>
<circle cx="323.80" cy="224.68" r="1.25" fill="#15518f"/>
<circle cx="336.47" cy="228.00" r="1.25" fill="#15518f"/>
<circle cx="361.80" cy="228.00" r="1.25" fill="#15518f"/>
<path d="M285.80 197.12 L288.33 199.03 L298.47 219.45 L311.13 229.90 L323.80 228.48 L336.47 229.43 L361.80 228.95" fill="none" stroke="#cc1433" stroke-width="1.4" stroke-linejoin="round"/>
<line x1="298.50" y1="218.03" x2="298.50" y2="220.88" stroke="#000" stroke-width="0.7"/>
<line x1="297.50" y1="218.03" x2="299.50" y2="218.03" stroke="#000" stroke-width="0.85"/>
<line x1="297.50" y1="220.88" x2="299.50" y2="220.88" stroke="#000" stroke-width="0.85"/>
<line x1="324.00" y1="227.05" x2="324.00" y2="229.90" stroke="#000" stroke-width="0.7"/>
<line x1="323.00" y1="227.05" x2="325.00" y2="227.05" stroke="#000" stroke-width="0.85"/>
<line x1="323.00" y1="229.90" x2="325.00" y2="229.90" stroke="#000" stroke-width="0.85"/>
<rect x="284.70" y="196.03" width="2.20" height="2.20" fill="#cc1433"/>
<rect x="287.23" y="197.93" width="2.20" height="2.20" fill="#cc1433"/>
<rect x="297.37" y="218.35" width="2.20" height="2.20" fill="#cc1433"/>
<rect x="310.03" y="228.80" width="2.20" height="2.20" fill="#cc1433"/>
<rect x="322.70" y="227.38" width="2.20" height="2.20" fill="#cc1433"/>
<rect x="335.37" y="228.33" width="2.20" height="2.20" fill="#cc1433"/>
<rect x="360.70" y="227.85" width="2.20" height="2.20" fill="#cc1433"/>
<line x1="285.10" y1="231.80" x2="364.50" y2="231.80" stroke="#1a1a1a" stroke-width="1.5"/>
<line x1="285.80" y1="181.50" x2="285.80" y2="232.50" stroke="#1a1a1a" stroke-width="1.4"/>
<line x1="282.90" y1="231.80" x2="285.80" y2="231.80" stroke="#1a1a1a" stroke-width="0.9"/>
<text x="278.35" y="234.06" font-size="6.3" textLength="3.05" lengthAdjust="spacingAndGlyphs">0</text>
<line x1="282.90" y1="222.30" x2="285.80" y2="222.30" stroke="#1a1a1a" stroke-width="0.9"/>
<text x="275.30" y="224.56" font-size="6.3" textLength="6.10" lengthAdjust="spacingAndGlyphs">20</text>
<line x1="282.90" y1="212.80" x2="285.80" y2="212.80" stroke="#1a1a1a" stroke-width="0.9"/>
<text x="275.30" y="215.06" font-size="6.3" textLength="6.10" lengthAdjust="spacingAndGlyphs">40</text>
<line x1="282.90" y1="203.30" x2="285.80" y2="203.30" stroke="#1a1a1a" stroke-width="0.9"/>
<text x="275.30" y="205.56" font-size="6.3" textLength="6.10" lengthAdjust="spacingAndGlyphs">60</text>
<line x1="282.90" y1="193.80" x2="285.80" y2="193.80" stroke="#1a1a1a" stroke-width="0.9"/>
<text x="275.30" y="196.06" font-size="6.3" textLength="6.10" lengthAdjust="spacingAndGlyphs">80</text>
<line x1="282.90" y1="184.30" x2="285.80" y2="184.30" stroke="#1a1a1a" stroke-width="0.9"/>
<text x="272.25" y="186.56" font-size="6.3" textLength="9.15" lengthAdjust="spacingAndGlyphs">100</text>
<line x1="285.80" y1="231.80" x2="285.80" y2="233.80" stroke="#000" stroke-width="0.9"/>
<text x="284.10" y="240.26" font-size="6.3" textLength="3.40" lengthAdjust="spacingAndGlyphs">0</text>
<line x1="311.13" y1="231.80" x2="311.13" y2="233.80" stroke="#000" stroke-width="0.9"/>
<text x="307.73" y="240.26" font-size="6.3" textLength="6.80" lengthAdjust="spacingAndGlyphs">10</text>
<line x1="336.47" y1="231.80" x2="336.47" y2="233.80" stroke="#000" stroke-width="0.9"/>
<text x="333.07" y="240.26" font-size="6.3" textLength="6.80" lengthAdjust="spacingAndGlyphs">20</text>
<line x1="361.80" y1="231.80" x2="361.80" y2="233.80" stroke="#000" stroke-width="0.9"/>
<text x="358.40" y="240.26" font-size="6.3" textLength="6.80" lengthAdjust="spacingAndGlyphs">30</text>
<text transform="translate(260.00 208.00) rotate(-90)" x="-14.40" y="2.26" font-size="6.3" style="stroke:none" textLength="28.80" lengthAdjust="spacingAndGlyphs">Viability (%)</text>
<text transform="translate(268.00 208.00) rotate(-90)" x="-27.50" y="2.26" font-size="6.3" style="stroke:none" textLength="55.00" lengthAdjust="spacingAndGlyphs">(annexin V/PI negative)</text>
<text x="307.50" y="248.73" font-size="6.8" style="stroke:#231f20;stroke-width:0.1px" textLength="35.00" lengthAdjust="spacingAndGlyphs">MP-A08 (µM)</text>
<line x1="319.00" y1="183.00" x2="324.50" y2="183.00" stroke="#15518f" stroke-width="1.2"/>
<circle cx="321.75" cy="183.00" r="1.15" fill="#15518f"/>
<text x="326.30" y="184.97" font-size="5.5" textLength="41.20" lengthAdjust="spacingAndGlyphs">Venetoclax 0nM</text>
<line x1="319.00" y1="189.30" x2="324.50" y2="189.30" stroke="#cc1433" stroke-width="1.2"/>
<rect x="320.70" y="188.25" width="2.10" height="2.10" fill="#cc1433"/>
<text x="326.30" y="191.27" font-size="5.5" textLength="41.20" lengthAdjust="spacingAndGlyphs">Venetoclax 1nM</text>
<text x="287.50" y="259.02" font-size="5.65" text-anchor="end">MP-A08 (µM)</text>
<text x="311.30" y="259.02" font-size="5.65" text-anchor="middle">5</text>
<text x="336.50" y="259.02" font-size="5.65" text-anchor="middle">10</text>
<text x="361.80" y="259.02" font-size="5.65" text-anchor="middle">15</text>
<text x="287.50" y="266.82" font-size="5.65" text-anchor="end">Venetoclax (nM)</text>
<text x="311.30" y="266.82" font-size="5.65" text-anchor="middle">1</text>
<text x="336.50" y="266.82" font-size="5.65" text-anchor="middle">2.5</text>
<text x="361.80" y="266.82" font-size="5.65" text-anchor="middle">2.5</text>
<text x="287.50" y="274.02" font-size="5.65" text-anchor="end">CI</text>
<text x="311.30" y="274.02" font-size="5.65" text-anchor="middle">0.39</text>
<text x="336.50" y="274.02" font-size="5.65" text-anchor="middle">0.18</text>
<text x="361.80" y="274.02" font-size="5.65" text-anchor="middle">0.31</text>
<text x="382.52" y="167.48" font-size="11.0" font-weight="bold" fill="#000" style="stroke:#000;stroke-width:0.3px" textLength="9.11" lengthAdjust="spacingAndGlyphs">G</text>
<text x="452.80" y="173.88" font-size="7.2" text-anchor="middle">OCI-AML3</text>
<path d="M413.00 186.20 L415.57 186.68 L425.83 187.15 L438.67 188.10 L451.50 190.48 L464.33 195.70 L490.00 218.03" fill="none" stroke="#15518f" stroke-width="1.4" stroke-linejoin="round"/>
<line x1="464.50" y1="194.28" x2="464.50" y2="197.13" stroke="#000" stroke-width="0.7"/>
<line x1="463.50" y1="194.28" x2="465.50" y2="194.28" stroke="#000" stroke-width="0.85"/>
<line x1="463.50" y1="197.13" x2="465.50" y2="197.13" stroke="#000" stroke-width="0.85"/>
<line x1="490.00" y1="216.60" x2="490.00" y2="219.45" stroke="#000" stroke-width="0.7"/>
<line x1="489.00" y1="216.60" x2="491.00" y2="216.60" stroke="#000" stroke-width="0.85"/>
<line x1="489.00" y1="219.45" x2="491.00" y2="219.45" stroke="#000" stroke-width="0.85"/>
<circle cx="413.00" cy="186.20" r="1.25" fill="#15518f"/>
<circle cx="415.57" cy="186.68" r="1.25" fill="#15518f"/>
<circle cx="425.83" cy="187.15" r="1.25" fill="#15518f"/>
<circle cx="438.67" cy="188.10" r="1.25" fill="#15518f"/>
<circle cx="451.50" cy="190.48" r="1.25" fill="#15518f"/>
<circle cx="464.33" cy="195.70" r="1.25" fill="#15518f"/>
<circle cx="490.00" cy="218.03" r="1.25" fill="#15518f"/>
<path d="M413.00 194.28 L415.57 193.80 L425.83 196.18 L438.67 201.88 L451.50 214.23 L464.33 225.15 L490.00 229.90" fill="none" stroke="#cc1433" stroke-width="1.4" stroke-linejoin="round"/>
<line x1="464.50" y1="223.72" x2="464.50" y2="226.58" stroke="#000" stroke-width="0.7"/>
<line x1="463.50" y1="223.72" x2="465.50" y2="223.72" stroke="#000" stroke-width="0.85"/>
<line x1="463.50" y1="226.58" x2="465.50" y2="226.58" stroke="#000" stroke-width="0.85"/>
<rect x="411.90" y="193.18" width="2.20" height="2.20" fill="#cc1433"/>
<rect x="414.47" y="192.70" width="2.20" height="2.20" fill="#cc1433"/>
<rect x="424.73" y="195.08" width="2.20" height="2.20" fill="#cc1433"/>
<rect x="437.57" y="200.78" width="2.20" height="2.20" fill="#cc1433"/>
<rect x="450.40" y="213.13" width="2.20" height="2.20" fill="#cc1433"/>
<rect x="463.23" y="224.05" width="2.20" height="2.20" fill="#cc1433"/>
<rect x="488.90" y="228.80" width="2.20" height="2.20" fill="#cc1433"/>
<line x1="412.30" y1="231.80" x2="493.00" y2="231.80" stroke="#1a1a1a" stroke-width="1.5"/>
<line x1="413.00" y1="181.50" x2="413.00" y2="232.50" stroke="#1a1a1a" stroke-width="1.4"/>
<line x1="410.10" y1="231.80" x2="413.00" y2="231.80" stroke="#1a1a1a" stroke-width="0.9"/>
<text x="405.55" y="234.06" font-size="6.3" textLength="3.05" lengthAdjust="spacingAndGlyphs">0</text>
<line x1="410.10" y1="222.30" x2="413.00" y2="222.30" stroke="#1a1a1a" stroke-width="0.9"/>
<text x="402.50" y="224.56" font-size="6.3" textLength="6.10" lengthAdjust="spacingAndGlyphs">20</text>
<line x1="410.10" y1="212.80" x2="413.00" y2="212.80" stroke="#1a1a1a" stroke-width="0.9"/>
<text x="402.50" y="215.06" font-size="6.3" textLength="6.10" lengthAdjust="spacingAndGlyphs">40</text>
<line x1="410.10" y1="203.30" x2="413.00" y2="203.30" stroke="#1a1a1a" stroke-width="0.9"/>
<text x="402.50" y="205.56" font-size="6.3" textLength="6.10" lengthAdjust="spacingAndGlyphs">60</text>
<line x1="410.10" y1="193.80" x2="413.00" y2="193.80" stroke="#1a1a1a" stroke-width="0.9"/>
<text x="402.50" y="196.06" font-size="6.3" textLength="6.10" lengthAdjust="spacingAndGlyphs">80</text>
<line x1="410.10" y1="184.30" x2="413.00" y2="184.30" stroke="#1a1a1a" stroke-width="0.9"/>
<text x="399.45" y="186.56" font-size="6.3" textLength="9.15" lengthAdjust="spacingAndGlyphs">100</text>
<line x1="413.00" y1="231.80" x2="413.00" y2="233.80" stroke="#000" stroke-width="0.9"/>
<text x="411.30" y="240.26" font-size="6.3" textLength="3.40" lengthAdjust="spacingAndGlyphs">0</text>
<line x1="438.67" y1="231.80" x2="438.67" y2="233.80" stroke="#000" stroke-width="0.9"/>
<text x="435.27" y="240.26" font-size="6.3" textLength="6.80" lengthAdjust="spacingAndGlyphs">10</text>
<line x1="464.33" y1="231.80" x2="464.33" y2="233.80" stroke="#000" stroke-width="0.9"/>
<text x="460.93" y="240.26" font-size="6.3" textLength="6.80" lengthAdjust="spacingAndGlyphs">20</text>
<line x1="490.00" y1="231.80" x2="490.00" y2="233.80" stroke="#000" stroke-width="0.9"/>
<text x="486.60" y="240.26" font-size="6.3" textLength="6.80" lengthAdjust="spacingAndGlyphs">30</text>
<text transform="translate(386.50 208.00) rotate(-90)" x="-14.40" y="2.26" font-size="6.3" style="stroke:none" textLength="28.80" lengthAdjust="spacingAndGlyphs">Viability (%)</text>
<text transform="translate(394.50 208.00) rotate(-90)" x="-27.50" y="2.26" font-size="6.3" style="stroke:none" textLength="55.00" lengthAdjust="spacingAndGlyphs">(annexin V/PI negative)</text>
<text x="435.30" y="248.73" font-size="6.8" style="stroke:#231f20;stroke-width:0.1px" textLength="35.00" lengthAdjust="spacingAndGlyphs">MP-A08 (µM)</text>
<line x1="460.00" y1="180.30" x2="465.00" y2="180.30" stroke="#15518f" stroke-width="1.2"/>
<circle cx="462.50" cy="180.30" r="1.15" fill="#15518f"/>
<text x="467.50" y="182.27" font-size="5.5" textLength="41.50" lengthAdjust="spacingAndGlyphs">Venetoclax 0nM</text>
<line x1="460.00" y1="186.50" x2="465.00" y2="186.50" stroke="#cc1433" stroke-width="1.2"/>
<rect x="461.45" y="185.45" width="2.10" height="2.10" fill="#cc1433"/>
<text x="467.50" y="188.47" font-size="5.5" textLength="44.30" lengthAdjust="spacingAndGlyphs">Venetoclax 10nM</text>
<text x="414.50" y="259.02" font-size="5.65" text-anchor="end">MP-A08 (µM)</text>
<text x="438.80" y="259.02" font-size="5.65" text-anchor="middle">15</text>
<text x="464.30" y="259.02" font-size="5.65" text-anchor="middle">20</text>
<text x="490.00" y="259.02" font-size="5.65" text-anchor="middle">30</text>
<text x="414.50" y="266.82" font-size="5.65" text-anchor="end">Venetoclax (nM)</text>
<text x="438.80" y="266.82" font-size="5.65" text-anchor="middle">10</text>
<text x="464.30" y="266.82" font-size="5.65" text-anchor="middle">10</text>
<text x="490.00" y="266.82" font-size="5.65" text-anchor="middle">10</text>
<text x="414.50" y="274.02" font-size="5.65" text-anchor="end">CI</text>
<text x="438.80" y="274.02" font-size="5.65" text-anchor="middle">0.09</text>
<text x="464.30" y="274.02" font-size="5.65" text-anchor="middle">0.01</text>
<text x="490.00" y="274.02" font-size="5.65" text-anchor="middle">0.36</text>
<text x="30.00" y="298.28" font-size="11.0" font-weight="bold" fill="#000" style="stroke:#000;stroke-width:0.3px" textLength="8.76" lengthAdjust="spacingAndGlyphs">H</text>
<line x1="78.95" y1="315.79" x2="78.95" y2="316.81" stroke="#000" stroke-width="0.8"/>
<line x1="76.55" y1="315.79" x2="81.35" y2="315.79" stroke="#000" stroke-width="0.8"/>
<rect x="73.75" y="316.81" width="10.40" height="56.69" fill="#0f4c81"/>
<line x1="78.95" y1="373.50" x2="78.95" y2="376.30" stroke="#000" stroke-width="0.9"/>
<line x1="90.45" y1="316.23" x2="90.45" y2="316.81" stroke="#000" stroke-width="0.8"/>
<line x1="88.05" y1="316.23" x2="92.85" y2="316.23" stroke="#000" stroke-width="0.8"/>
<rect x="85.25" y="316.81" width="10.40" height="56.69" fill="#7fa2c3"/>
<line x1="90.45" y1="373.50" x2="90.45" y2="376.30" stroke="#000" stroke-width="0.9"/>
<line x1="101.95" y1="326.36" x2="101.95" y2="329.29" stroke="#000" stroke-width="0.8"/>
<line x1="99.55" y1="326.36" x2="104.35" y2="326.36" stroke="#000" stroke-width="0.8"/>
<rect x="96.75" y="329.29" width="10.40" height="44.21" fill="#7fa2c3"/>
<line x1="101.95" y1="373.50" x2="101.95" y2="376.30" stroke="#000" stroke-width="0.9"/>
<line x1="113.45" y1="331.97" x2="113.45" y2="334.26" stroke="#000" stroke-width="0.8"/>
<line x1="111.05" y1="331.97" x2="115.85" y2="331.97" stroke="#000" stroke-width="0.8"/>
<rect x="108.25" y="334.26" width="10.40" height="39.24" fill="#7fa2c3"/>
<line x1="113.45" y1="373.50" x2="113.45" y2="376.30" stroke="#000" stroke-width="0.9"/>
<line x1="124.95" y1="315.41" x2="124.95" y2="317.06" stroke="#000" stroke-width="0.8"/>
<line x1="122.55" y1="315.41" x2="127.35" y2="315.41" stroke="#000" stroke-width="0.8"/>
<rect x="119.75" y="317.06" width="10.40" height="56.44" fill="#c8102e"/>
<line x1="124.95" y1="373.50" x2="124.95" y2="376.30" stroke="#000" stroke-width="0.9"/>
<line x1="136.45" y1="319.36" x2="136.45" y2="321.27" stroke="#000" stroke-width="0.8"/>
<line x1="134.05" y1="319.36" x2="138.85" y2="319.36" stroke="#000" stroke-width="0.8"/>
<rect x="131.25" y="321.27" width="10.40" height="52.23" fill="#e08090"/>
<line x1="136.45" y1="373.50" x2="136.45" y2="376.30" stroke="#000" stroke-width="0.9"/>
<line x1="147.95" y1="331.08" x2="147.95" y2="333.37" stroke="#000" stroke-width="0.8"/>
<line x1="145.55" y1="331.08" x2="150.35" y2="331.08" stroke="#000" stroke-width="0.8"/>
<rect x="142.75" y="333.37" width="10.40" height="40.13" fill="#e08090"/>
<line x1="147.95" y1="373.50" x2="147.95" y2="376.30" stroke="#000" stroke-width="0.9"/>
<line x1="159.45" y1="355.54" x2="159.45" y2="358.21" stroke="#000" stroke-width="0.8"/>
<line x1="157.05" y1="355.54" x2="161.85" y2="355.54" stroke="#000" stroke-width="0.8"/>
<rect x="154.25" y="358.21" width="10.40" height="15.29" fill="#e08090"/>
<line x1="159.45" y1="373.50" x2="159.45" y2="376.30" stroke="#000" stroke-width="0.9"/>
<line x1="71.30" y1="373.50" x2="167.60" y2="373.50" stroke="#000" stroke-width="1.1"/>
<line x1="71.80" y1="306.30" x2="71.80" y2="374.15" stroke="#000" stroke-width="1.3"/>
<line x1="68.45" y1="373.50" x2="71.80" y2="373.50" stroke="#000" stroke-width="0.9"/>
<text x="62.23" y="376.65" font-size="8.8" textLength="3.92" lengthAdjust="spacingAndGlyphs">0</text>
<line x1="68.45" y1="360.76" x2="71.80" y2="360.76" stroke="#000" stroke-width="0.9"/>
<text x="58.32" y="363.91" font-size="8.8" textLength="7.83" lengthAdjust="spacingAndGlyphs">20</text>
<line x1="68.45" y1="348.02" x2="71.80" y2="348.02" stroke="#000" stroke-width="0.9"/>
<text x="58.32" y="351.17" font-size="8.8" textLength="7.83" lengthAdjust="spacingAndGlyphs">40</text>
<line x1="68.45" y1="335.28" x2="71.80" y2="335.28" stroke="#000" stroke-width="0.9"/>
<text x="58.32" y="338.43" font-size="8.8" textLength="7.83" lengthAdjust="spacingAndGlyphs">60</text>
<line x1="68.45" y1="322.54" x2="71.80" y2="322.54" stroke="#000" stroke-width="0.9"/>
<text x="58.32" y="325.69" font-size="8.8" textLength="7.83" lengthAdjust="spacingAndGlyphs">80</text>
<line x1="68.45" y1="309.80" x2="71.80" y2="309.80" stroke="#000" stroke-width="0.9"/>
<text x="54.40" y="312.95" font-size="8.8" textLength="11.75" lengthAdjust="spacingAndGlyphs">100</text>
<text transform="translate(33.90 341.50) rotate(-90)" x="-19.60" y="3.11" font-size="8.7" style="stroke:#231f20;stroke-width:0.12px" textLength="39.20" lengthAdjust="spacingAndGlyphs">Viability (%)</text>
<text transform="translate(45.30 341.50) rotate(-90)" x="-34.00" y="3.11" font-size="8.7" style="stroke:#231f20;stroke-width:0.12px" textLength="68.00" lengthAdjust="spacingAndGlyphs">(annexin V negative)</text>
<text x="29.80" y="385.99" font-size="7.8" textLength="40.80" lengthAdjust="spacingAndGlyphs">Doxycycline</text>
<text x="42.60" y="395.59" font-size="7.8" textLength="28.00" lengthAdjust="spacingAndGlyphs">MP-A08</text>
<line x1="76.50" y1="382.50" x2="80.50" y2="382.50" stroke="#2a2627" stroke-width="0.9"/>
<line x1="88.50" y1="382.50" x2="92.50" y2="382.50" stroke="#2a2627" stroke-width="0.9"/>
<line x1="90.50" y1="380.50" x2="90.50" y2="384.50" stroke="#2a2627" stroke-width="0.9"/>
<line x1="99.50" y1="382.50" x2="103.50" y2="382.50" stroke="#2a2627" stroke-width="0.9"/>
<line x1="111.50" y1="382.50" x2="115.50" y2="382.50" stroke="#2a2627" stroke-width="0.9"/>
<line x1="113.50" y1="380.50" x2="113.50" y2="384.50" stroke="#2a2627" stroke-width="0.9"/>
<line x1="122.50" y1="382.50" x2="126.50" y2="382.50" stroke="#2a2627" stroke-width="0.9"/>
<line x1="134.50" y1="382.50" x2="138.50" y2="382.50" stroke="#2a2627" stroke-width="0.9"/>
<line x1="136.50" y1="380.50" x2="136.50" y2="384.50" stroke="#2a2627" stroke-width="0.9"/>
<line x1="145.50" y1="382.50" x2="149.50" y2="382.50" stroke="#2a2627" stroke-width="0.9"/>
<line x1="157.50" y1="382.50" x2="161.50" y2="382.50" stroke="#2a2627" stroke-width="0.9"/>
<line x1="159.50" y1="380.50" x2="159.50" y2="384.50" stroke="#2a2627" stroke-width="0.9"/>
<line x1="76.50" y1="392.50" x2="80.50" y2="392.50" stroke="#2a2627" stroke-width="0.9"/>
<line x1="88.50" y1="392.50" x2="92.50" y2="392.50" stroke="#2a2627" stroke-width="0.9"/>
<line x1="99.50" y1="392.50" x2="103.50" y2="392.50" stroke="#2a2627" stroke-width="0.9"/>
<line x1="101.50" y1="390.50" x2="101.50" y2="394.50" stroke="#2a2627" stroke-width="0.9"/>
<line x1="111.50" y1="392.50" x2="115.50" y2="392.50" stroke="#2a2627" stroke-width="0.9"/>
<line x1="113.50" y1="390.50" x2="113.50" y2="394.50" stroke="#2a2627" stroke-width="0.9"/>
<line x1="122.50" y1="392.50" x2="126.50" y2="392.50" stroke="#2a2627" stroke-width="0.9"/>
<line x1="134.50" y1="392.50" x2="138.50" y2="392.50" stroke="#2a2627" stroke-width="0.9"/>
<line x1="145.50" y1="392.50" x2="149.50" y2="392.50" stroke="#2a2627" stroke-width="0.9"/>
<line x1="147.50" y1="390.50" x2="147.50" y2="394.50" stroke="#2a2627" stroke-width="0.9"/>
<line x1="157.50" y1="392.50" x2="161.50" y2="392.50" stroke="#2a2627" stroke-width="0.9"/>
<line x1="159.50" y1="390.50" x2="159.50" y2="394.50" stroke="#2a2627" stroke-width="0.9"/>
<line x1="75.75" y1="400.80" x2="117.25" y2="400.80" stroke="#555" stroke-width="1.3"/>
<line x1="122.00" y1="400.80" x2="163.50" y2="400.80" stroke="#555" stroke-width="1.3"/>
<text x="83.50" y="409.59" font-size="7.8" textLength="26.00" lengthAdjust="spacingAndGlyphs">Control</text>
<text x="85.00" y="419.19" font-size="7.8" textLength="23.00" lengthAdjust="spacingAndGlyphs">shRNA</text>
<text x="135.00" y="409.59" font-size="7.8" textLength="16.60" lengthAdjust="spacingAndGlyphs">Bcl-2</text>
<text x="131.80" y="419.19" font-size="7.8" textLength="23.00" lengthAdjust="spacingAndGlyphs">shRNA</text>
<line x1="147.30" y1="325.70" x2="159.90" y2="325.70" stroke="#231f20" stroke-width="1.0"/>
<line x1="147.30" y1="323.20" x2="147.30" y2="328.20" stroke="#231f20" stroke-width="1.0"/>
<line x1="159.90" y1="323.20" x2="159.90" y2="328.20" stroke="#231f20" stroke-width="1.0"/>
<text x="153.60" y="325.00" font-size="8.5" text-anchor="middle" textLength="11.80" lengthAdjust="spacing">***</text>
<text x="192.20" y="309.79" font-size="9.2" textLength="30.60" lengthAdjust="spacingAndGlyphs">Control</text>
<text x="193.80" y="321.42" font-size="9.0" textLength="27.40" lengthAdjust="spacingAndGlyphs">shRNA</text>
<text x="228.00" y="309.72" font-size="9.0" textLength="19.60" lengthAdjust="spacingAndGlyphs">Bcl-2</text>
<text x="224.10" y="321.42" font-size="9.0" textLength="27.40" lengthAdjust="spacingAndGlyphs">shRNA</text>
<line x1="195.00" y1="324.10" x2="220.80" y2="324.10" stroke="#555" stroke-width="1.3"/>
<line x1="225.20" y1="324.10" x2="250.80" y2="324.10" stroke="#555" stroke-width="1.3"/>
<text x="177.50" y="337.52" font-size="9.0" textLength="16.40" lengthAdjust="spacingAndGlyphs">Dox</text>
<line x1="198.30" y1="334.50" x2="202.70" y2="334.50" stroke="#2a2627" stroke-width="0.9"/>
<line x1="212.30" y1="334.50" x2="216.70" y2="334.50" stroke="#2a2627" stroke-width="0.9"/>
<line x1="214.50" y1="332.30" x2="214.50" y2="336.70" stroke="#2a2627" stroke-width="0.9"/>
<line x1="228.30" y1="334.50" x2="232.70" y2="334.50" stroke="#2a2627" stroke-width="0.9"/>
<line x1="242.30" y1="334.50" x2="246.70" y2="334.50" stroke="#2a2627" stroke-width="0.9"/>
<line x1="244.50" y1="332.30" x2="244.50" y2="336.70" stroke="#2a2627" stroke-width="0.9"/>
<text x="253.80" y="352.02" font-size="9.0" textLength="20.00" lengthAdjust="spacingAndGlyphs">Bcl-2</text>
<text x="253.80" y="367.02" font-size="9.0" textLength="27.80" lengthAdjust="spacingAndGlyphs">β-actin</text>
<text x="305.55" y="298.18" font-size="11.0" font-weight="bold" fill="#000" style="stroke:#000;stroke-width:0.3px" textLength="3.16" lengthAdjust="spacingAndGlyphs">I</text>
<text x="405.00" y="298.29" font-size="9.2" text-anchor="middle">UT-7</text>
<path d="M347.00 328.29 L350.76 328.29 L365.82 328.98 L384.65 335.14 L403.48 339.25 L422.30 341.31 L459.95 344.73" fill="none" stroke="#cc1433" stroke-width="1.2" stroke-linejoin="round"/>
<line x1="347.00" y1="326.24" x2="347.00" y2="330.35" stroke="#000" stroke-width="0.7"/>
<line x1="345.60" y1="326.24" x2="348.40" y2="326.24" stroke="#000" stroke-width="0.85"/>
<line x1="345.60" y1="330.35" x2="348.40" y2="330.35" stroke="#000" stroke-width="0.85"/>
<line x1="351.00" y1="326.24" x2="351.00" y2="330.35" stroke="#000" stroke-width="0.7"/>
<line x1="349.60" y1="326.24" x2="352.40" y2="326.24" stroke="#000" stroke-width="0.85"/>
<line x1="349.60" y1="330.35" x2="352.40" y2="330.35" stroke="#000" stroke-width="0.85"/>
<line x1="366.00" y1="326.24" x2="366.00" y2="331.72" stroke="#000" stroke-width="0.7"/>
<line x1="364.60" y1="326.24" x2="367.40" y2="326.24" stroke="#000" stroke-width="0.85"/>
<line x1="364.60" y1="331.72" x2="367.40" y2="331.72" stroke="#000" stroke-width="0.85"/>
<line x1="384.50" y1="333.08" x2="384.50" y2="337.19" stroke="#000" stroke-width="0.7"/>
<line x1="383.10" y1="333.08" x2="385.90" y2="333.08" stroke="#000" stroke-width="0.85"/>
<line x1="383.10" y1="337.19" x2="385.90" y2="337.19" stroke="#000" stroke-width="0.85"/>
<line x1="403.50" y1="336.51" x2="403.50" y2="341.99" stroke="#000" stroke-width="0.7"/>
<line x1="402.10" y1="336.51" x2="404.90" y2="336.51" stroke="#000" stroke-width="0.85"/>
<line x1="402.10" y1="341.99" x2="404.90" y2="341.99" stroke="#000" stroke-width="0.85"/>
<line x1="422.50" y1="339.25" x2="422.50" y2="343.36" stroke="#000" stroke-width="0.7"/>
<line x1="421.10" y1="339.25" x2="423.90" y2="339.25" stroke="#000" stroke-width="0.85"/>
<line x1="421.10" y1="343.36" x2="423.90" y2="343.36" stroke="#000" stroke-width="0.85"/>
<rect x="345.75" y="327.04" width="2.50" height="2.50" fill="#cc1433"/>
<rect x="349.51" y="327.04" width="2.50" height="2.50" fill="#cc1433"/>
<rect x="364.57" y="327.73" width="2.50" height="2.50" fill="#cc1433"/>
<rect x="383.40" y="333.89" width="2.50" height="2.50" fill="#cc1433"/>
<rect x="402.23" y="338.00" width="2.50" height="2.50" fill="#cc1433"/>
<rect x="421.05" y="340.06" width="2.50" height="2.50" fill="#cc1433"/>
<rect x="458.70" y="343.48" width="2.50" height="2.50" fill="#cc1433"/>
<path d="M347.00 327.61 L350.76 328.29 L365.82 327.61 L384.65 332.40 L403.48 335.14 L422.30 335.82 L459.95 340.62" fill="none" stroke="#15518f" stroke-width="1.2" stroke-linejoin="round"/>
<line x1="347.00" y1="325.55" x2="347.00" y2="329.66" stroke="#000" stroke-width="0.7"/>
<line x1="345.60" y1="325.55" x2="348.40" y2="325.55" stroke="#000" stroke-width="0.85"/>
<line x1="345.60" y1="329.66" x2="348.40" y2="329.66" stroke="#000" stroke-width="0.85"/>
<line x1="351.00" y1="326.24" x2="351.00" y2="330.35" stroke="#000" stroke-width="0.7"/>
<line x1="349.60" y1="326.24" x2="352.40" y2="326.24" stroke="#000" stroke-width="0.85"/>
<line x1="349.60" y1="330.35" x2="352.40" y2="330.35" stroke="#000" stroke-width="0.85"/>
<line x1="366.00" y1="326.24" x2="366.00" y2="328.98" stroke="#000" stroke-width="0.7"/>
<line x1="364.60" y1="326.24" x2="367.40" y2="326.24" stroke="#000" stroke-width="0.85"/>
<line x1="364.60" y1="328.98" x2="367.40" y2="328.98" stroke="#000" stroke-width="0.85"/>
<line x1="384.50" y1="330.34" x2="384.50" y2="334.45" stroke="#000" stroke-width="0.7"/>
<line x1="383.10" y1="330.34" x2="385.90" y2="330.34" stroke="#000" stroke-width="0.85"/>
<line x1="383.10" y1="334.45" x2="385.90" y2="334.45" stroke="#000" stroke-width="0.85"/>
<line x1="403.50" y1="333.08" x2="403.50" y2="337.19" stroke="#000" stroke-width="0.7"/>
<line x1="402.10" y1="333.08" x2="404.90" y2="333.08" stroke="#000" stroke-width="0.85"/>
<line x1="402.10" y1="337.19" x2="404.90" y2="337.19" stroke="#000" stroke-width="0.85"/>
<line x1="422.50" y1="333.77" x2="422.50" y2="337.88" stroke="#000" stroke-width="0.7"/>
<line x1="421.10" y1="333.77" x2="423.90" y2="333.77" stroke="#000" stroke-width="0.85"/>
<line x1="421.10" y1="337.88" x2="423.90" y2="337.88" stroke="#000" stroke-width="0.85"/>
<line x1="460.00" y1="338.56" x2="460.00" y2="342.68" stroke="#000" stroke-width="0.7"/>
<line x1="458.60" y1="338.56" x2="461.40" y2="338.56" stroke="#000" stroke-width="0.85"/>
<line x1="458.60" y1="342.68" x2="461.40" y2="342.68" stroke="#000" stroke-width="0.85"/>
<circle cx="347.00" cy="327.61" r="1.4" fill="#15518f"/>
<circle cx="350.76" cy="328.29" r="1.4" fill="#15518f"/>
<circle cx="365.82" cy="327.61" r="1.4" fill="#15518f"/>
<circle cx="384.65" cy="332.40" r="1.4" fill="#15518f"/>
<circle cx="403.48" cy="335.14" r="1.4" fill="#15518f"/>
<circle cx="422.30" cy="335.82" r="1.4" fill="#15518f"/>
<circle cx="459.95" cy="340.62" r="1.4" fill="#15518f"/>
<line x1="346.50" y1="373.50" x2="463.80" y2="373.50" stroke="#000" stroke-width="1.1"/>
<line x1="347.00" y1="301.50" x2="347.00" y2="374.15" stroke="#000" stroke-width="1.3"/>
<line x1="343.65" y1="373.50" x2="347.00" y2="373.50" stroke="#000" stroke-width="0.9"/>
<text x="337.43" y="376.65" font-size="8.8" textLength="3.92" lengthAdjust="spacingAndGlyphs">0</text>
<line x1="343.65" y1="359.80" x2="347.00" y2="359.80" stroke="#000" stroke-width="0.9"/>
<text x="333.52" y="362.95" font-size="8.8" textLength="7.83" lengthAdjust="spacingAndGlyphs">20</text>
<line x1="343.65" y1="346.10" x2="347.00" y2="346.10" stroke="#000" stroke-width="0.9"/>
<text x="333.52" y="349.25" font-size="8.8" textLength="7.83" lengthAdjust="spacingAndGlyphs">40</text>
<line x1="343.65" y1="332.40" x2="347.00" y2="332.40" stroke="#000" stroke-width="0.9"/>
<text x="333.52" y="335.55" font-size="8.8" textLength="7.83" lengthAdjust="spacingAndGlyphs">60</text>
<line x1="343.65" y1="318.70" x2="347.00" y2="318.70" stroke="#000" stroke-width="0.9"/>
<text x="333.52" y="321.85" font-size="8.8" textLength="7.83" lengthAdjust="spacingAndGlyphs">80</text>
<line x1="343.65" y1="305.00" x2="347.00" y2="305.00" stroke="#000" stroke-width="0.9"/>
<text x="329.60" y="308.15" font-size="8.8" textLength="11.75" lengthAdjust="spacingAndGlyphs">100</text>
<line x1="347.00" y1="373.50" x2="347.00" y2="376.10" stroke="#000" stroke-width="0.9"/>
<text x="344.85" y="385.15" font-size="8.8" textLength="4.31" lengthAdjust="spacingAndGlyphs">0</text>
<line x1="384.65" y1="373.50" x2="384.65" y2="376.10" stroke="#000" stroke-width="0.9"/>
<text x="380.34" y="385.15" font-size="8.8" textLength="8.61" lengthAdjust="spacingAndGlyphs">10</text>
<line x1="422.30" y1="373.50" x2="422.30" y2="376.10" stroke="#000" stroke-width="0.9"/>
<text x="417.99" y="385.15" font-size="8.8" textLength="8.61" lengthAdjust="spacingAndGlyphs">20</text>
<line x1="459.95" y1="373.50" x2="459.95" y2="376.10" stroke="#000" stroke-width="0.9"/>
<text x="455.64" y="385.15" font-size="8.8" textLength="8.61" lengthAdjust="spacingAndGlyphs">30</text>
<text transform="translate(310.00 339.50) rotate(-90)" x="-19.40" y="3.11" font-size="8.7" style="stroke:#231f20;stroke-width:0.12px" textLength="38.80" lengthAdjust="spacingAndGlyphs">Viability (%)</text>
<text transform="translate(321.00 339.50) rotate(-90)" x="-37.50" y="3.11" font-size="8.7" style="stroke:#231f20;stroke-width:0.12px" textLength="75.00" lengthAdjust="spacingAndGlyphs">(annexin V/PI negative)</text>
<text x="382.05" y="396.89" font-size="9.2" style="stroke:#231f20;stroke-width:0.25px" textLength="43.50" lengthAdjust="spacingAndGlyphs">MP-A08 (µM)</text>
<line x1="424.50" y1="309.00" x2="431.80" y2="309.00" stroke="#15518f" stroke-width="1.0"/>
<circle cx="428.15" cy="309.00" r="1.2" fill="#15518f"/>
<text x="435.00" y="311.51" font-size="7" textLength="52.00" lengthAdjust="spacingAndGlyphs">Venetoclax 0nM</text>
<line x1="424.50" y1="317.30" x2="431.80" y2="317.30" stroke="#cc1433" stroke-width="1.0"/>
<rect x="426.95" y="316.10" width="2.40" height="2.40" fill="#cc1433"/>
<text x="435.00" y="319.81" font-size="7" textLength="56.00" lengthAdjust="spacingAndGlyphs">Venetoclax 10nM</text>
<text x="349.00" y="407.63" font-size="7.9" text-anchor="end">MP-A08</text>
<text x="384.60" y="407.63" font-size="7.9" text-anchor="middle">5</text>
<text x="422.30" y="407.63" font-size="7.9" text-anchor="middle">10</text>
<text x="460.00" y="407.63" font-size="7.9" text-anchor="middle">15</text>
<text x="349.00" y="417.13" font-size="7.9" text-anchor="end">Venetoclax</text>
<text x="384.60" y="417.13" font-size="7.9" text-anchor="middle">10</text>
<text x="422.30" y="417.13" font-size="7.9" text-anchor="middle">10</text>
<text x="460.00" y="417.13" font-size="7.9" text-anchor="middle">10</text>
<text x="349.00" y="426.43" font-size="7.9" text-anchor="end">CI</text>
<text x="384.60" y="426.43" font-size="7.9" text-anchor="middle">–</text>
<text x="422.30" y="426.43" font-size="7.9" text-anchor="middle">–</text>
<text x="460.00" y="426.43" font-size="7.9" text-anchor="middle">–</text>
<clipPath id="c1"><rect x="193.60" y="342.00" width="27.20" height="15.60"/></clipPath>
<g clip-path="url(#c1)">
<rect x="193.60" y="342.00" width="27.20" height="15.60" fill="#dedede"/>
<g filter="url(#b1)">
<rect x="196.30" y="347.70" width="10.00" height="1.60" rx="0.80" fill="#000" opacity="0.9"/>
<rect x="207.50" y="346.95" width="10.80" height="2.10" rx="1.05" fill="#000" opacity="1"/>
</g></g>
<rect x="193.60" y="342.00" width="27.20" height="15.60" fill="none" stroke="#000" stroke-width="1.2"/>
<clipPath id="c2"><rect x="193.60" y="357.60" width="27.20" height="12.20"/></clipPath>
<g clip-path="url(#c2)">
<rect x="193.60" y="357.60" width="27.20" height="12.20" fill="#e6e6e6"/>
<g filter="url(#b1)">
<rect x="195.95" y="362.40" width="22.50" height="1.60" rx="0.80" fill="#000" opacity="1"/>
</g></g>
<rect x="193.60" y="357.60" width="27.20" height="12.20" fill="none" stroke="#000" stroke-width="1.2"/>
<clipPath id="c3"><rect x="224.30" y="342.00" width="27.50" height="15.60"/></clipPath>
<g clip-path="url(#c3)">
<rect x="224.30" y="342.00" width="27.50" height="15.60" fill="#b8b8b8"/>
<rect x="227.00" y="350.00" width="10.00" height="6.00" fill="#888" opacity="0.35" filter="url(#b3)"/>
<g filter="url(#b1)">
<rect x="227.00" y="347.00" width="10.00" height="2.00" rx="1.00" fill="#000" opacity="0.95"/>
<rect x="239.10" y="347.65" width="9.00" height="1.50" rx="0.75" fill="#333" opacity="0.55"/>
</g></g>
<rect x="224.30" y="342.00" width="27.50" height="15.60" fill="none" stroke="#000" stroke-width="1.2"/>
<clipPath id="c4"><rect x="224.30" y="357.60" width="27.50" height="12.20"/></clipPath>
<g clip-path="url(#c4)">
<rect x="224.30" y="357.60" width="27.50" height="12.20" fill="#bcbcbc"/>
<g filter="url(#b1)">
<rect x="227.95" y="362.95" width="8.50" height="1.70" rx="0.85" fill="#111" opacity="0.8"/>
<rect x="239.75" y="362.95" width="8.50" height="1.70" rx="0.85" fill="#111" opacity="0.75"/>
</g></g>
<rect x="224.30" y="357.60" width="27.50" height="12.20" fill="none" stroke="#000" stroke-width="1.2"/>
<text x="29.68" y="445.18" font-size="11.0" font-weight="bold" fill="#000" style="stroke:#000;stroke-width:0.3px" textLength="4.58" lengthAdjust="spacingAndGlyphs">J</text>
<text x="64.50" y="452.01" font-size="8.4" text-anchor="middle">UT-7</text>
<text x="36.75" y="461.81" font-size="8.4" textLength="55.50" lengthAdjust="spacingAndGlyphs">MP-A08 (µM)</text>
<line x1="34.30" y1="465.70" x2="94.30" y2="465.70" stroke="#5a5a5a" stroke-width="1.4"/>
<text x="39.40" y="473.94" font-size="8.2" textLength="4.40" lengthAdjust="spacingAndGlyphs">0</text>
<text x="49.50" y="473.94" font-size="8.2" textLength="4.40" lengthAdjust="spacingAndGlyphs">5</text>
<text x="56.30" y="473.94" font-size="8.2" textLength="8.00" lengthAdjust="spacingAndGlyphs">10</text>
<text x="66.00" y="473.94" font-size="8.2" textLength="8.00" lengthAdjust="spacingAndGlyphs">15</text>
<text x="76.00" y="473.94" font-size="8.2" textLength="8.00" lengthAdjust="spacingAndGlyphs">20</text>
<text x="87.00" y="473.94" font-size="8.2" textLength="8.00" lengthAdjust="spacingAndGlyphs">30</text>
<clipPath id="c5"><rect x="33.50" y="476.50" width="63.40" height="15.10"/></clipPath>
<g clip-path="url(#c5)">
<rect x="33.50" y="476.50" width="63.40" height="15.10" fill="#b0b0b0"/>
<g filter="url(#b1)">
<rect x="37.10" y="482.20" width="8.20" height="2.00" rx="1.00" fill="#1a1a1a" opacity="0.8"/>
<rect x="47.10" y="482.20" width="8.20" height="2.00" rx="1.00" fill="#1a1a1a" opacity="0.65"/>
<rect x="56.90" y="482.20" width="8.20" height="2.00" rx="1.00" fill="#1a1a1a" opacity="0.95"/>
<rect x="66.50" y="482.20" width="8.20" height="2.00" rx="1.00" fill="#1a1a1a" opacity="0.75"/>
<rect x="76.30" y="482.20" width="8.20" height="2.00" rx="1.00" fill="#1a1a1a" opacity="0.95"/>
<rect x="86.50" y="482.20" width="8.20" height="2.00" rx="1.00" fill="#1a1a1a" opacity="0.75"/>
<rect x="34.00" y="477.75" width="62.00" height="0.90" rx="0.45" fill="#e8e8e8" opacity="0.55"/>
<rect x="34.00" y="488.00" width="62.00" height="2.00" rx="1.00" fill="#999" opacity="0.35"/>
</g></g>
<rect x="33.50" y="476.50" width="63.40" height="15.10" fill="none" stroke="#000" stroke-width="1.2"/>
<clipPath id="c6"><rect x="33.50" y="491.60" width="63.40" height="15.70"/></clipPath>
<g clip-path="url(#c6)">
<rect x="33.50" y="491.60" width="63.40" height="15.70" fill="#c6c6c6"/>
<g filter="url(#b1)">
<rect x="37.10" y="499.00" width="8.20" height="2.00" rx="1.00" fill="#2a2a2a" opacity="0.45"/>
<rect x="47.10" y="498.60" width="8.20" height="2.00" rx="1.00" fill="#2a2a2a" opacity="0.6"/>
<rect x="56.90" y="498.30" width="8.20" height="2.00" rx="1.00" fill="#2a2a2a" opacity="0.65"/>
<rect x="66.50" y="498.00" width="8.20" height="2.00" rx="1.00" fill="#2a2a2a" opacity="0.7"/>
<rect x="76.30" y="498.00" width="8.20" height="2.00" rx="1.00" fill="#2a2a2a" opacity="0.8"/>
<rect x="86.50" y="498.00" width="8.20" height="2.00" rx="1.00" fill="#2a2a2a" opacity="0.65"/>
<rect x="34.00" y="492.50" width="62.00" height="1.00" rx="0.50" fill="#e0e0e0" opacity="0.4"/>
</g></g>
<rect x="33.50" y="491.60" width="63.40" height="15.70" fill="none" stroke="#000" stroke-width="1.2"/>
<clipPath id="c7"><rect x="33.50" y="507.30" width="63.40" height="15.00"/></clipPath>
<g clip-path="url(#c7)">
<rect x="33.50" y="507.30" width="63.40" height="15.00" fill="#d0d0d0"/>
<g filter="url(#b1)">
<path d="M36.0 511.8 L45 512.8 L55 514.2 L64 515.1 L75 515.6" fill="none" stroke="#000" stroke-width="2.7" stroke-linecap="round" stroke-linejoin="round" opacity="1"/>
<path d="M74 515.7 L84 516.0 L94.5 516.0" fill="none" stroke="#0a0a0a" stroke-width="2.0" stroke-linecap="round" stroke-linejoin="round" opacity="0.85"/>
<rect x="37.50" y="518.80" width="7.00" height="1.00" rx="0.50" fill="#666" opacity="0.4"/>
<rect x="37.00" y="508.80" width="56.00" height="1.00" rx="0.50" fill="#888" opacity="0.3"/>
</g></g>
<rect x="33.50" y="507.30" width="63.40" height="15.00" fill="none" stroke="#000" stroke-width="1.2"/>
<clipPath id="c8"><rect x="33.50" y="522.30" width="63.40" height="15.20"/></clipPath>
<g clip-path="url(#c8)">
<rect x="33.50" y="522.30" width="63.40" height="15.20" fill="#bcbcbc"/>
<rect x="33.00" y="523.00" width="64.00" height="4.00" fill="#a4a4a4" opacity="0.6" filter="url(#b3)"/>
<rect x="33.00" y="534.00" width="64.00" height="4.00" fill="#9c9c9c" opacity="0.6" filter="url(#b3)"/>
<g filter="url(#b1)">
<path d="M35 532.4 L44 532.0 L50 532.8 L58 532.0 L64 532.4 L72 531.2 L78 530.4 L82 529.0 L88 528.2 L93 527.2" fill="none" stroke="#1a1a1a" stroke-width="1.2" stroke-linecap="round" stroke-linejoin="round" opacity="0.95"/>
<path d="M80 529.6 L88 528.1 L93 527.2" fill="none" stroke="#111" stroke-width="1.8" stroke-linecap="round" stroke-linejoin="round" opacity="0.8"/>
</g></g>
<rect x="33.50" y="522.30" width="63.40" height="15.20" fill="none" stroke="#000" stroke-width="1.2"/>
<clipPath id="c9"><rect x="33.50" y="537.50" width="63.40" height="15.00"/></clipPath>
<g clip-path="url(#c9)">
<rect x="33.50" y="537.50" width="63.40" height="15.00" fill="#f0f0f0"/>
<g filter="url(#b1)">
<rect x="37.30" y="545.00" width="7.80" height="2.60" rx="1.30" fill="#111" opacity="0.8"/>
<rect x="47.30" y="545.90" width="7.80" height="2.60" rx="1.30" fill="#111" opacity="0.8"/>
<rect x="57.10" y="546.50" width="7.80" height="2.60" rx="1.30" fill="#111" opacity="0.85"/>
<rect x="66.70" y="546.70" width="7.80" height="2.60" rx="1.30" fill="#111" opacity="0.85"/>
<rect x="76.50" y="546.40" width="7.80" height="2.60" rx="1.30" fill="#111" opacity="0.9"/>
<rect x="86.70" y="545.70" width="7.80" height="2.60" rx="1.30" fill="#111" opacity="0.95"/>
<rect x="37.70" y="542.30" width="7.00" height="3.00" rx="1.50" fill="#888" opacity="0.12"/>
<rect x="47.70" y="542.30" width="7.00" height="3.00" rx="1.50" fill="#888" opacity="0.12"/>
<rect x="57.50" y="542.30" width="7.00" height="3.00" rx="1.50" fill="#888" opacity="0.12"/>
<rect x="67.10" y="542.30" width="7.00" height="3.00" rx="1.50" fill="#888" opacity="0.12"/>
<rect x="76.90" y="542.30" width="7.00" height="3.00" rx="1.50" fill="#888" opacity="0.12"/>
<rect x="87.10" y="542.30" width="7.00" height="3.00" rx="1.50" fill="#888" opacity="0.12"/>
</g></g>
<rect x="33.50" y="537.50" width="63.40" height="15.00" fill="none" stroke="#000" stroke-width="1.2"/>
<clipPath id="c10"><rect x="33.50" y="552.50" width="63.40" height="14.30"/></clipPath>
<g clip-path="url(#c10)">
<rect x="33.50" y="552.50" width="63.40" height="14.30" fill="#b4b4b4"/>
<g filter="url(#b1)">
<rect x="38.90" y="558.80" width="8.60" height="2.40" rx="1.20" fill="#000" opacity="0.95"/>
<rect x="47.70" y="558.70" width="8.60" height="2.60" rx="1.30" fill="#000" opacity="0.95"/>
<rect x="57.60" y="559.30" width="7.40" height="2.20" rx="1.10" fill="#111" opacity="0.85"/>
<rect x="66.30" y="559.50" width="6.40" height="2.00" rx="1.00" fill="#111" opacity="0.75"/>
<rect x="77.00" y="560.30" width="7.00" height="2.00" rx="1.00" fill="#111" opacity="0.85"/>
<rect x="86.90" y="560.60" width="6.60" height="2.00" rx="1.00" fill="#111" opacity="0.8"/>
</g></g>
<rect x="33.50" y="552.50" width="63.40" height="14.30" fill="none" stroke="#000" stroke-width="1.2"/>
<clipPath id="c11"><rect x="33.50" y="566.80" width="63.40" height="15.20"/></clipPath>
<g clip-path="url(#c11)">
<rect x="33.50" y="566.80" width="63.40" height="15.20" fill="#eeeeee"/>
<g filter="url(#b1)">
<path d="M36 574.6 L50 575.1 L66 575.4 L80 575.2 L95 574.9" fill="none" stroke="#000" stroke-width="1.7" stroke-linecap="round" stroke-linejoin="round" opacity="1"/>
</g></g>
<rect x="33.50" y="566.80" width="63.40" height="15.20" fill="none" stroke="#000" stroke-width="1.2"/>
<text x="100.00" y="488.79" font-size="7.8">Mcl-1</text>
<text x="100.00" y="501.79" font-size="7.8">Bcl-2</text>
<text x="100.00" y="532.79" font-size="7.8">Noxa</text>
<text x="100.00" y="548.79" font-size="7.8">Bim</text>
<text x="100.00" y="564.09" font-size="7.8">Bid</text>
<text x="100.00" y="578.29" font-size="7.8">β-actin</text>
<text x="100.0" y="517.8" font-size="7.8">Bcl-X<tspan font-size="5.2" dy="1.4">L</tspan></text>
<text x="138.37" y="445.53" font-size="11.0" font-weight="bold" fill="#000" style="stroke:#000;stroke-width:0.3px" textLength="7.42" lengthAdjust="spacingAndGlyphs">K</text>
<text x="197.90" y="452.39" font-size="9.2" textLength="28.20" lengthAdjust="spacingAndGlyphs">MV411</text>
<text x="173.50" y="472.29" font-size="7.8" text-anchor="end">MP-A08</text>
<text x="173.50" y="479.19" font-size="7.8" text-anchor="end">Venetoclax</text>
<line x1="185.60" y1="469.50" x2="189.40" y2="469.50" stroke="#2a2627" stroke-width="0.9"/>
<line x1="201.60" y1="469.50" x2="205.40" y2="469.50" stroke="#2a2627" stroke-width="0.9"/>
<line x1="203.50" y1="467.60" x2="203.50" y2="471.40" stroke="#2a2627" stroke-width="0.9"/>
<line x1="216.60" y1="469.50" x2="220.40" y2="469.50" stroke="#2a2627" stroke-width="0.9"/>
<line x1="233.60" y1="469.50" x2="237.40" y2="469.50" stroke="#2a2627" stroke-width="0.9"/>
<line x1="235.50" y1="467.60" x2="235.50" y2="471.40" stroke="#2a2627" stroke-width="0.9"/>
<line x1="185.60" y1="477.50" x2="189.40" y2="477.50" stroke="#2a2627" stroke-width="0.9"/>
<line x1="201.60" y1="477.50" x2="205.40" y2="477.50" stroke="#2a2627" stroke-width="0.9"/>
<line x1="216.60" y1="477.50" x2="220.40" y2="477.50" stroke="#2a2627" stroke-width="0.9"/>
<line x1="218.50" y1="475.60" x2="218.50" y2="479.40" stroke="#2a2627" stroke-width="0.9"/>
<line x1="233.60" y1="477.50" x2="237.40" y2="477.50" stroke="#2a2627" stroke-width="0.9"/>
<line x1="235.50" y1="475.60" x2="235.50" y2="479.40" stroke="#2a2627" stroke-width="0.9"/>
<clipPath id="c12"><rect x="176.90" y="482.30" width="66.30" height="26.00"/></clipPath>
<g clip-path="url(#c12)">
<rect x="176.90" y="482.30" width="66.30" height="26.00" fill="#aaaaaa"/>
<g filter="url(#b1)">
<rect x="179.90" y="485.10" width="14.00" height="2.60" rx="1.30" fill="#000" opacity="1"/>
<rect x="196.20" y="485.10" width="13.60" height="2.60" rx="1.30" fill="#000" opacity="1"/>
<rect x="211.90" y="485.10" width="13.60" height="2.60" rx="1.30" fill="#000" opacity="1"/>
<rect x="229.25" y="485.70" width="11.50" height="1.20" rx="0.60" fill="#111" opacity="0.9"/>
<rect x="229.55" y="504.70" width="10.50" height="1.20" rx="0.60" fill="#333" opacity="0.6"/>
<rect x="177.00" y="482.90" width="66.00" height="1.00" rx="0.50" fill="#d8d8d8" opacity="0.5"/>
</g></g>
<rect x="176.90" y="482.30" width="66.30" height="26.00" fill="none" stroke="#000" stroke-width="1.2"/>
<clipPath id="c13"><rect x="176.90" y="508.90" width="66.30" height="14.40"/></clipPath>
<g clip-path="url(#c13)">
<rect x="176.90" y="508.90" width="66.30" height="14.40" fill="#e6e6e6"/>
<g filter="url(#b1)">
<rect x="182.25" y="515.40" width="10.50" height="2.40" rx="1.20" fill="#222" opacity="0.8"/>
<rect x="197.75" y="515.40" width="10.50" height="2.40" rx="1.20" fill="#333" opacity="0.75"/>
<rect x="213.20" y="515.40" width="10.00" height="2.20" rx="1.10" fill="#333" opacity="0.75"/>
<rect x="230.00" y="515.20" width="9.00" height="2.00" rx="1.00" fill="#999" opacity="0.3"/>
<rect x="181.50" y="514.35" width="12.00" height="4.50" rx="2.25" fill="#777" opacity="0.25"/>
<rect x="197.00" y="514.35" width="12.00" height="4.50" rx="2.25" fill="#777" opacity="0.25"/>
<rect x="212.20" y="514.35" width="12.00" height="4.50" rx="2.25" fill="#777" opacity="0.2"/>
<rect x="183.00" y="511.40" width="9.00" height="1.20" rx="0.60" fill="#999" opacity="0.3"/>
<rect x="198.50" y="511.40" width="9.00" height="1.20" rx="0.60" fill="#999" opacity="0.3"/>
</g></g>
<rect x="177.90" y="509.90" width="64.30" height="12.40" fill="none" stroke="#fff" stroke-width="0.7" opacity="0.7"/>
<rect x="176.90" y="508.90" width="66.30" height="14.40" fill="none" stroke="#000" stroke-width="1.2"/>
<clipPath id="c14"><rect x="176.90" y="523.30" width="66.30" height="14.70"/></clipPath>
<g clip-path="url(#c14)">
<rect x="176.90" y="523.30" width="66.30" height="14.70" fill="#dadada"/>
<g filter="url(#b1)">
<rect x="180.50" y="528.90" width="10.00" height="1.60" rx="0.80" fill="#888" opacity="0.4"/>
<rect x="195.50" y="529.40" width="10.00" height="2.20" rx="1.10" fill="#111" opacity="0.9"/>
<rect x="211.50" y="530.70" width="10.00" height="1.60" rx="0.80" fill="#888" opacity="0.45"/>
<rect x="227.00" y="530.20" width="13.00" height="2.80" rx="1.40" fill="#000" opacity="1"/>
</g></g>
<rect x="177.90" y="524.30" width="64.30" height="12.70" fill="none" stroke="#fff" stroke-width="0.7" opacity="0.7"/>
<rect x="176.90" y="523.30" width="66.30" height="14.70" fill="none" stroke="#000" stroke-width="1.2"/>
<clipPath id="c15"><rect x="176.90" y="538.00" width="66.30" height="15.00"/></clipPath>
<g clip-path="url(#c15)">
<rect x="176.90" y="538.00" width="66.30" height="15.00" fill="#dcdcdc"/>
<g filter="url(#b1)">
<rect x="179.75" y="543.30" width="10.50" height="2.60" rx="1.30" fill="#333" opacity="0.6"/>
<rect x="195.75" y="543.00" width="11.50" height="3.20" rx="1.60" fill="#1a1a1a" opacity="0.8"/>
<rect x="212.00" y="543.70" width="10.00" height="2.60" rx="1.30" fill="#888" opacity="0.35"/>
<rect x="179.00" y="542.75" width="12.00" height="5.50" rx="2.75" fill="#777" opacity="0.25"/>
<rect x="195.00" y="542.50" width="13.00" height="6.00" rx="3.00" fill="#666" opacity="0.3"/>
<rect x="211.00" y="543.50" width="12.00" height="5.00" rx="2.50" fill="#999" opacity="0.25"/>
<rect x="228.00" y="547.20" width="10.00" height="1.20" rx="0.60" fill="#222" opacity="0.8"/>
</g></g>
<rect x="177.90" y="539.00" width="64.30" height="13.00" fill="none" stroke="#fff" stroke-width="0.7" opacity="0.7"/>
<rect x="176.90" y="538.00" width="66.30" height="15.00" fill="none" stroke="#000" stroke-width="1.2"/>
<clipPath id="c16"><rect x="176.90" y="553.00" width="66.30" height="14.30"/></clipPath>
<g clip-path="url(#c16)">
<rect x="176.90" y="553.00" width="66.30" height="14.30" fill="#e0e0e0"/>
<g filter="url(#b1)">
<rect x="179.00" y="558.80" width="13.00" height="2.00" rx="1.00" fill="#000" opacity="1"/>
<rect x="195.00" y="558.50" width="13.00" height="2.20" rx="1.10" fill="#000" opacity="1"/>
<rect x="211.00" y="558.70" width="13.00" height="2.20" rx="1.10" fill="#000" opacity="1"/>
<rect x="228.50" y="559.20" width="11.00" height="1.40" rx="0.70" fill="#777" opacity="0.5"/>
</g></g>
<rect x="177.90" y="554.00" width="64.30" height="12.30" fill="none" stroke="#fff" stroke-width="0.7" opacity="0.7"/>
<rect x="176.90" y="553.00" width="66.30" height="14.30" fill="none" stroke="#000" stroke-width="1.2"/>
<clipPath id="c17"><rect x="176.90" y="567.30" width="66.30" height="14.70"/></clipPath>
<g clip-path="url(#c17)">
<rect x="176.90" y="567.30" width="66.30" height="14.70" fill="#e8e8e8"/>
<g filter="url(#b1)">
<rect x="180.00" y="573.70" width="14.00" height="2.60" rx="1.30" fill="#000" opacity="1"/>
<rect x="195.75" y="573.70" width="13.50" height="2.60" rx="1.30" fill="#000" opacity="1"/>
<rect x="210.55" y="573.70" width="13.50" height="2.60" rx="1.30" fill="#000" opacity="1"/>
<rect x="225.80" y="573.60" width="14.00" height="2.80" rx="1.40" fill="#000" opacity="1"/>
</g></g>
<rect x="177.90" y="568.30" width="64.30" height="12.70" fill="none" stroke="#fff" stroke-width="0.7" opacity="0.7"/>
<rect x="176.90" y="567.30" width="66.30" height="14.70" fill="none" stroke="#000" stroke-width="1.2"/>
<text x="246.30" y="489.32" font-size="7.6">Caspase 3</text>
<text x="246.30" y="505.72" font-size="7.6">Cleaved caspase 3</text>
<text x="246.30" y="518.62" font-size="7.6">Mcl-1</text>
<text x="246.30" y="533.72" font-size="7.6">Noxa</text>
<text x="246.30" y="548.52" font-size="7.6">Bim</text>
<text x="246.30" y="562.82" font-size="7.6">Bid</text>
<text x="246.30" y="577.62" font-size="7.6">β-actin</text>
<text x="320.20" y="445.53" font-size="11.0" font-weight="bold" fill="#000" style="stroke:#000;stroke-width:0.3px" textLength="5.52" lengthAdjust="spacingAndGlyphs">L</text>
<text x="374.50" y="461.29" font-size="9.2" textLength="44.00" lengthAdjust="spacingAndGlyphs">OCI-AML3</text>
<text x="355.00" y="472.59" font-size="7.8" text-anchor="end">MP-A08</text>
<text x="355.00" y="479.69" font-size="7.8" text-anchor="end">Venetoclax</text>
<line x1="365.60" y1="469.50" x2="369.40" y2="469.50" stroke="#2a2627" stroke-width="0.9"/>
<line x1="382.60" y1="469.50" x2="386.40" y2="469.50" stroke="#2a2627" stroke-width="0.9"/>
<line x1="384.50" y1="467.60" x2="384.50" y2="471.40" stroke="#2a2627" stroke-width="0.9"/>
<line x1="399.60" y1="469.50" x2="403.40" y2="469.50" stroke="#2a2627" stroke-width="0.9"/>
<line x1="414.60" y1="469.50" x2="418.40" y2="469.50" stroke="#2a2627" stroke-width="0.9"/>
<line x1="416.50" y1="467.60" x2="416.50" y2="471.40" stroke="#2a2627" stroke-width="0.9"/>
<line x1="365.60" y1="477.50" x2="369.40" y2="477.50" stroke="#2a2627" stroke-width="0.9"/>
<line x1="382.60" y1="477.50" x2="386.40" y2="477.50" stroke="#2a2627" stroke-width="0.9"/>
<line x1="399.60" y1="477.50" x2="403.40" y2="477.50" stroke="#2a2627" stroke-width="0.9"/>
<line x1="401.50" y1="475.60" x2="401.50" y2="479.40" stroke="#2a2627" stroke-width="0.9"/>
<line x1="414.60" y1="477.50" x2="418.40" y2="477.50" stroke="#2a2627" stroke-width="0.9"/>
<line x1="416.50" y1="475.60" x2="416.50" y2="479.40" stroke="#2a2627" stroke-width="0.9"/>
<clipPath id="c18"><rect x="358.00" y="482.50" width="65.60" height="25.70"/></clipPath>
<g clip-path="url(#c18)">
<rect x="358.00" y="482.50" width="65.60" height="25.70" fill="#b8b8b8"/>
<g filter="url(#b1)">
<rect x="359.75" y="486.40" width="13.50" height="3.20" rx="1.60" fill="#000" opacity="1"/>
<rect x="376.00" y="486.80" width="14.00" height="2.40" rx="1.20" fill="#000" opacity="1"/>
<rect x="393.00" y="486.40" width="14.00" height="3.20" rx="1.60" fill="#000" opacity="1"/>
<rect x="410.75" y="485.80" width="10.50" height="1.60" rx="0.80" fill="#555" opacity="0.5"/>
<rect x="410.00" y="502.60" width="12.00" height="2.00" rx="1.00" fill="#444" opacity="0.55"/>
<rect x="379.00" y="502.60" width="10.00" height="1.60" rx="0.80" fill="#777" opacity="0.25"/>
<rect x="358.00" y="483.50" width="64.00" height="1.00" rx="0.50" fill="#e0e0e0" opacity="0.5"/>
</g></g>
<rect x="358.00" y="482.50" width="65.60" height="25.70" fill="none" stroke="#000" stroke-width="1.2"/>
<clipPath id="c19"><rect x="358.00" y="508.80" width="65.60" height="14.20"/></clipPath>
<g clip-path="url(#c19)">
<rect x="358.00" y="508.80" width="65.60" height="14.20" fill="#e2e2e2"/>
<g filter="url(#b1)">
<rect x="361.75" y="515.80" width="10.50" height="2.00" rx="1.00" fill="#222" opacity="0.85"/>
<rect x="378.00" y="515.80" width="11.00" height="2.00" rx="1.00" fill="#555" opacity="0.6"/>
<rect x="394.00" y="515.70" width="12.00" height="2.20" rx="1.10" fill="#111" opacity="0.95"/>
<rect x="411.50" y="516.00" width="9.00" height="1.60" rx="0.80" fill="#999" opacity="0.25"/>
</g></g>
<rect x="359.00" y="509.80" width="63.60" height="12.20" fill="none" stroke="#fff" stroke-width="0.7" opacity="0.7"/>
<rect x="358.00" y="508.80" width="65.60" height="14.20" fill="none" stroke="#000" stroke-width="1.2"/>
<clipPath id="c20"><rect x="358.00" y="523.00" width="65.60" height="15.20"/></clipPath>
<g clip-path="url(#c20)">
<rect x="358.00" y="523.00" width="65.60" height="15.20" fill="#dedede"/>
<g filter="url(#b1)">
<rect x="377.45" y="529.60" width="13.50" height="2.40" rx="1.20" fill="#000" opacity="1"/>
<rect x="406.00" y="530.10" width="15.00" height="2.40" rx="1.20" fill="#000" opacity="1"/>
<rect x="362.00" y="529.80" width="10.00" height="1.40" rx="0.70" fill="#999" opacity="0.25"/>
<rect x="395.50" y="530.50" width="9.00" height="1.40" rx="0.70" fill="#999" opacity="0.3"/>
</g></g>
<rect x="359.00" y="524.00" width="63.60" height="13.20" fill="none" stroke="#fff" stroke-width="0.7" opacity="0.7"/>
<rect x="358.00" y="523.00" width="65.60" height="15.20" fill="none" stroke="#000" stroke-width="1.2"/>
<clipPath id="c21"><rect x="358.00" y="538.20" width="65.60" height="14.40"/></clipPath>
<g clip-path="url(#c21)">
<rect x="358.00" y="538.20" width="65.60" height="14.40" fill="#d6d6d6"/>
<g filter="url(#b1)">
<rect x="362.00" y="544.90" width="10.00" height="2.20" rx="1.10" fill="#222" opacity="0.65"/>
<rect x="377.55" y="545.20" width="12.50" height="2.40" rx="1.20" fill="#1a1a1a" opacity="0.8"/>
<rect x="394.00" y="545.10" width="11.00" height="2.40" rx="1.20" fill="#222" opacity="0.75"/>
<rect x="410.00" y="545.50" width="11.00" height="1.80" rx="0.90" fill="#333" opacity="0.65"/>
<rect x="361.00" y="543.75" width="12.00" height="4.50" rx="2.25" fill="#777" opacity="0.2"/>
<rect x="376.80" y="544.15" width="14.00" height="4.50" rx="2.25" fill="#777" opacity="0.25"/>
<rect x="393.00" y="544.05" width="13.00" height="4.50" rx="2.25" fill="#777" opacity="0.2"/>
</g></g>
<rect x="359.00" y="539.20" width="63.60" height="12.40" fill="none" stroke="#fff" stroke-width="0.7" opacity="0.7"/>
<rect x="358.00" y="538.20" width="65.60" height="14.40" fill="none" stroke="#000" stroke-width="1.2"/>
<clipPath id="c22"><rect x="358.00" y="552.60" width="65.60" height="14.70"/></clipPath>
<g clip-path="url(#c22)">
<rect x="358.00" y="552.60" width="65.60" height="14.70" fill="#dadada"/>
<g filter="url(#b1)">
<rect x="361.00" y="559.70" width="16.00" height="2.20" rx="1.10" fill="#000" opacity="1"/>
<rect x="379.00" y="559.60" width="13.00" height="2.40" rx="1.20" fill="#000" opacity="1"/>
<rect x="394.00" y="559.10" width="14.00" height="3.20" rx="1.60" fill="#000" opacity="1"/>
<rect x="411.00" y="560.10" width="10.00" height="1.40" rx="0.70" fill="#777" opacity="0.45"/>
</g></g>
<rect x="359.00" y="553.60" width="63.60" height="12.70" fill="none" stroke="#fff" stroke-width="0.7" opacity="0.7"/>
<rect x="358.00" y="552.60" width="65.60" height="14.70" fill="none" stroke="#000" stroke-width="1.2"/>
<clipPath id="c23"><rect x="358.00" y="567.30" width="65.60" height="14.70"/></clipPath>
<g clip-path="url(#c23)">
<rect x="358.00" y="567.30" width="65.60" height="14.70" fill="#e2e2e2"/>
<g filter="url(#b1)">
<path d="M361 575.4 L372 576.0 L384 575.6 L396 576.1 L408 575.5 L421 575.7" fill="none" stroke="#000" stroke-width="4.2" stroke-linecap="round" stroke-linejoin="round" opacity="1"/>
</g></g>
<rect x="359.00" y="568.30" width="63.60" height="12.70" fill="none" stroke="#fff" stroke-width="0.7" opacity="0.7"/>
<rect x="358.00" y="567.30" width="65.60" height="14.70" fill="none" stroke="#000" stroke-width="1.2"/>
<text x="427.00" y="489.22" font-size="7.6">Caspase 3</text>
<text x="427.00" y="505.22" font-size="7.6">Cleaved caspase 3</text>
<text x="427.00" y="518.12" font-size="7.6">Mcl-1</text>
<text x="427.00" y="533.22" font-size="7.6">Noxa</text>
<text x="427.00" y="548.62" font-size="7.6">Bim</text>
<text x="427.00" y="562.22" font-size="7.6">Bid</text>
<text x="427.00" y="577.42" font-size="7.6">β-actin</text>
<rect x="0.5" y="0.5" width="519" height="588" fill="none" stroke="#000" stroke-width="1.2"/>
</svg>
</body></html>
